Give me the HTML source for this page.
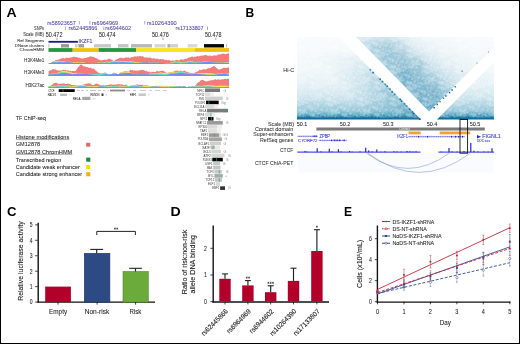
<!DOCTYPE html>
<html><head><meta charset="utf-8">
<style>
html,body{margin:0;padding:0;background:#fff;}
body{width:520px;height:344px;overflow:hidden;}
svg{display:block;will-change:transform;}
text{font-family:"Liberation Sans",sans-serif;}
</style></head>
<body>
<svg width="520" height="344" viewBox="0 0 520 344">
<defs>
  <linearGradient id="hicV" x1="0" y1="37" x2="0" y2="119.5" gradientUnits="userSpaceOnUse">
    <stop offset="0" stop-color="#f8fbfc"/>
    <stop offset="0.4" stop-color="#f0f7f9"/>
    <stop offset="0.6" stop-color="#e0eef4"/>
    <stop offset="0.72" stop-color="#cce4ed"/>
    <stop offset="0.82" stop-color="#acd2e1"/>
    <stop offset="0.9" stop-color="#8bc1d5"/>
    <stop offset="0.935" stop-color="#5eabc9"/>
    <stop offset="0.955" stop-color="#2a8ab3"/>
    <stop offset="0.975" stop-color="#116f99"/>
    <stop offset="1" stop-color="#0f6d97"/>
  </linearGradient>
  <linearGradient id="hicEdge" x1="380" y1="78" x2="356" y2="102" gradientUnits="userSpaceOnUse">
    <stop offset="0" stop-color="#2a8ab2" stop-opacity="0.45"/>
    <stop offset="0.5" stop-color="#2a8ab2" stop-opacity="0.18"/>
    <stop offset="1" stop-color="#2a8ab2" stop-opacity="0"/>
  </linearGradient>
  <linearGradient id="vfade" x1="0" y1="50" x2="0" y2="92" gradientUnits="userSpaceOnUse">
    <stop offset="0" stop-color="#fff" stop-opacity="0"/>
    <stop offset="1" stop-color="#fff" stop-opacity="1"/>
  </linearGradient>
  <mask id="mEdge" maskUnits="userSpaceOnUse" x="290" y="30" width="210" height="95">
    <rect x="290" y="30" width="210" height="95" fill="url(#vfade)"/>
  </mask>
  <linearGradient id="hicM" x1="0" y1="37" x2="0" y2="111.5" gradientUnits="userSpaceOnUse">
    <stop offset="0" stop-color="#d2e6ee"/>
    <stop offset="0.25" stop-color="#b6d6e3"/>
    <stop offset="0.6" stop-color="#93c3d6"/>
    <stop offset="1" stop-color="#5aa3c2"/>
  </linearGradient>
  <linearGradient id="hicMx" x1="392" y1="74" x2="442" y2="24" gradientUnits="userSpaceOnUse">
    <stop offset="0" stop-color="#fff" stop-opacity="0"/>
    <stop offset="0.25" stop-color="#fff" stop-opacity="0.1"/>
    <stop offset="0.5" stop-color="#fff" stop-opacity="0.45"/>
    <stop offset="0.75" stop-color="#fff" stop-opacity="0.7"/>
    <stop offset="1" stop-color="#fff" stop-opacity="0.82"/>
  </linearGradient>
  <filter id="blur4" x="-50%" y="-50%" width="200%" height="200%"><feGaussianBlur stdDeviation="5"/></filter>
  <filter id="blur2" x="-50%" y="-50%" width="200%" height="200%"><feGaussianBlur stdDeviation="2"/></filter>
  <filter id="noise" x="0" y="0" width="100%" height="100%">
    <feTurbulence type="fractalNoise" baseFrequency="0.55" numOctaves="1" seed="3" result="n"/>
    <feColorMatrix in="n" type="matrix" values="0 0 0 0 1  0 0 0 0 1  0 0 0 0 1  0 0 0 -2.2 1.35"/>
  </filter>
  <pattern id="diam" width="22.75" height="22.75" patternUnits="userSpaceOnUse" patternTransform="rotate(45)">
    <rect x="0.00" y="1.75" width="1.75" height="1.75" fill="#fff" fill-opacity="0.18"/><rect x="0.00" y="3.50" width="1.75" height="1.75" fill="#fff" fill-opacity="0.35"/><rect x="0.00" y="8.75" width="1.75" height="1.75" fill="#fff" fill-opacity="0.24"/><rect x="0.00" y="10.50" width="1.75" height="1.75" fill="#fff" fill-opacity="0.16"/><rect x="0.00" y="12.25" width="1.75" height="1.75" fill="#fff" fill-opacity="0.09"/><rect x="0.00" y="14.00" width="1.75" height="1.75" fill="#fff" fill-opacity="0.32"/><rect x="0.00" y="15.75" width="1.75" height="1.75" fill="#fff" fill-opacity="0.16"/><rect x="0.00" y="21.00" width="1.75" height="1.75" fill="#fff" fill-opacity="0.38"/><rect x="1.75" y="1.75" width="1.75" height="1.75" fill="#fff" fill-opacity="0.14"/><rect x="1.75" y="5.25" width="1.75" height="1.75" fill="#fff" fill-opacity="0.11"/><rect x="1.75" y="7.00" width="1.75" height="1.75" fill="#fff" fill-opacity="0.39"/><rect x="1.75" y="14.00" width="1.75" height="1.75" fill="#fff" fill-opacity="0.44"/><rect x="1.75" y="15.75" width="1.75" height="1.75" fill="#fff" fill-opacity="0.28"/><rect x="3.50" y="3.50" width="1.75" height="1.75" fill="#fff" fill-opacity="0.16"/><rect x="3.50" y="5.25" width="1.75" height="1.75" fill="#fff" fill-opacity="0.11"/><rect x="3.50" y="7.00" width="1.75" height="1.75" fill="#fff" fill-opacity="0.12"/><rect x="3.50" y="8.75" width="1.75" height="1.75" fill="#fff" fill-opacity="0.32"/><rect x="3.50" y="10.50" width="1.75" height="1.75" fill="#fff" fill-opacity="0.22"/><rect x="3.50" y="12.25" width="1.75" height="1.75" fill="#fff" fill-opacity="0.18"/><rect x="3.50" y="19.25" width="1.75" height="1.75" fill="#fff" fill-opacity="0.35"/><rect x="3.50" y="21.00" width="1.75" height="1.75" fill="#fff" fill-opacity="0.22"/><rect x="5.25" y="10.50" width="1.75" height="1.75" fill="#fff" fill-opacity="0.09"/><rect x="5.25" y="12.25" width="1.75" height="1.75" fill="#fff" fill-opacity="0.18"/><rect x="5.25" y="14.00" width="1.75" height="1.75" fill="#fff" fill-opacity="0.43"/><rect x="5.25" y="17.50" width="1.75" height="1.75" fill="#fff" fill-opacity="0.32"/><rect x="5.25" y="19.25" width="1.75" height="1.75" fill="#fff" fill-opacity="0.42"/><rect x="5.25" y="21.00" width="1.75" height="1.75" fill="#fff" fill-opacity="0.18"/><rect x="7.00" y="0.00" width="1.75" height="1.75" fill="#fff" fill-opacity="0.29"/><rect x="7.00" y="1.75" width="1.75" height="1.75" fill="#fff" fill-opacity="0.30"/><rect x="7.00" y="5.25" width="1.75" height="1.75" fill="#fff" fill-opacity="0.16"/><rect x="7.00" y="8.75" width="1.75" height="1.75" fill="#fff" fill-opacity="0.11"/><rect x="7.00" y="10.50" width="1.75" height="1.75" fill="#fff" fill-opacity="0.12"/><rect x="7.00" y="15.75" width="1.75" height="1.75" fill="#fff" fill-opacity="0.10"/><rect x="7.00" y="17.50" width="1.75" height="1.75" fill="#fff" fill-opacity="0.45"/><rect x="7.00" y="19.25" width="1.75" height="1.75" fill="#fff" fill-opacity="0.44"/><rect x="8.75" y="0.00" width="1.75" height="1.75" fill="#fff" fill-opacity="0.35"/><rect x="8.75" y="3.50" width="1.75" height="1.75" fill="#fff" fill-opacity="0.18"/><rect x="8.75" y="7.00" width="1.75" height="1.75" fill="#fff" fill-opacity="0.24"/><rect x="8.75" y="8.75" width="1.75" height="1.75" fill="#fff" fill-opacity="0.43"/><rect x="8.75" y="12.25" width="1.75" height="1.75" fill="#fff" fill-opacity="0.27"/><rect x="8.75" y="14.00" width="1.75" height="1.75" fill="#fff" fill-opacity="0.42"/><rect x="8.75" y="17.50" width="1.75" height="1.75" fill="#fff" fill-opacity="0.32"/><rect x="8.75" y="21.00" width="1.75" height="1.75" fill="#fff" fill-opacity="0.36"/><rect x="10.50" y="0.00" width="1.75" height="1.75" fill="#fff" fill-opacity="0.37"/><rect x="10.50" y="1.75" width="1.75" height="1.75" fill="#fff" fill-opacity="0.08"/><rect x="10.50" y="3.50" width="1.75" height="1.75" fill="#fff" fill-opacity="0.09"/><rect x="10.50" y="10.50" width="1.75" height="1.75" fill="#fff" fill-opacity="0.10"/><rect x="10.50" y="15.75" width="1.75" height="1.75" fill="#fff" fill-opacity="0.26"/><rect x="10.50" y="17.50" width="1.75" height="1.75" fill="#fff" fill-opacity="0.36"/><rect x="10.50" y="21.00" width="1.75" height="1.75" fill="#fff" fill-opacity="0.26"/><rect x="12.25" y="0.00" width="1.75" height="1.75" fill="#fff" fill-opacity="0.18"/><rect x="12.25" y="3.50" width="1.75" height="1.75" fill="#fff" fill-opacity="0.16"/><rect x="12.25" y="5.25" width="1.75" height="1.75" fill="#fff" fill-opacity="0.35"/><rect x="12.25" y="7.00" width="1.75" height="1.75" fill="#fff" fill-opacity="0.20"/><rect x="12.25" y="12.25" width="1.75" height="1.75" fill="#fff" fill-opacity="0.27"/><rect x="12.25" y="14.00" width="1.75" height="1.75" fill="#fff" fill-opacity="0.16"/><rect x="12.25" y="15.75" width="1.75" height="1.75" fill="#fff" fill-opacity="0.30"/><rect x="12.25" y="17.50" width="1.75" height="1.75" fill="#fff" fill-opacity="0.16"/><rect x="12.25" y="19.25" width="1.75" height="1.75" fill="#fff" fill-opacity="0.31"/><rect x="12.25" y="21.00" width="1.75" height="1.75" fill="#fff" fill-opacity="0.42"/><rect x="14.00" y="1.75" width="1.75" height="1.75" fill="#fff" fill-opacity="0.17"/><rect x="14.00" y="5.25" width="1.75" height="1.75" fill="#fff" fill-opacity="0.13"/><rect x="14.00" y="10.50" width="1.75" height="1.75" fill="#fff" fill-opacity="0.37"/><rect x="14.00" y="14.00" width="1.75" height="1.75" fill="#fff" fill-opacity="0.12"/><rect x="14.00" y="15.75" width="1.75" height="1.75" fill="#fff" fill-opacity="0.24"/><rect x="14.00" y="17.50" width="1.75" height="1.75" fill="#fff" fill-opacity="0.35"/><rect x="15.75" y="0.00" width="1.75" height="1.75" fill="#fff" fill-opacity="0.23"/><rect x="15.75" y="1.75" width="1.75" height="1.75" fill="#fff" fill-opacity="0.40"/><rect x="15.75" y="3.50" width="1.75" height="1.75" fill="#fff" fill-opacity="0.15"/><rect x="15.75" y="5.25" width="1.75" height="1.75" fill="#fff" fill-opacity="0.24"/><rect x="15.75" y="7.00" width="1.75" height="1.75" fill="#fff" fill-opacity="0.17"/><rect x="15.75" y="10.50" width="1.75" height="1.75" fill="#fff" fill-opacity="0.40"/><rect x="15.75" y="14.00" width="1.75" height="1.75" fill="#fff" fill-opacity="0.45"/><rect x="17.50" y="0.00" width="1.75" height="1.75" fill="#fff" fill-opacity="0.26"/><rect x="17.50" y="1.75" width="1.75" height="1.75" fill="#fff" fill-opacity="0.23"/><rect x="17.50" y="3.50" width="1.75" height="1.75" fill="#fff" fill-opacity="0.22"/><rect x="17.50" y="7.00" width="1.75" height="1.75" fill="#fff" fill-opacity="0.37"/><rect x="17.50" y="8.75" width="1.75" height="1.75" fill="#fff" fill-opacity="0.24"/><rect x="17.50" y="17.50" width="1.75" height="1.75" fill="#fff" fill-opacity="0.19"/><rect x="19.25" y="0.00" width="1.75" height="1.75" fill="#fff" fill-opacity="0.36"/><rect x="19.25" y="1.75" width="1.75" height="1.75" fill="#fff" fill-opacity="0.30"/><rect x="19.25" y="3.50" width="1.75" height="1.75" fill="#fff" fill-opacity="0.40"/><rect x="19.25" y="5.25" width="1.75" height="1.75" fill="#fff" fill-opacity="0.44"/><rect x="19.25" y="7.00" width="1.75" height="1.75" fill="#fff" fill-opacity="0.15"/><rect x="19.25" y="12.25" width="1.75" height="1.75" fill="#fff" fill-opacity="0.12"/><rect x="19.25" y="15.75" width="1.75" height="1.75" fill="#fff" fill-opacity="0.30"/><rect x="19.25" y="19.25" width="1.75" height="1.75" fill="#fff" fill-opacity="0.30"/><rect x="19.25" y="21.00" width="1.75" height="1.75" fill="#fff" fill-opacity="0.43"/><rect x="21.00" y="0.00" width="1.75" height="1.75" fill="#fff" fill-opacity="0.34"/><rect x="21.00" y="1.75" width="1.75" height="1.75" fill="#fff" fill-opacity="0.23"/><rect x="21.00" y="5.25" width="1.75" height="1.75" fill="#fff" fill-opacity="0.20"/><rect x="21.00" y="8.75" width="1.75" height="1.75" fill="#fff" fill-opacity="0.25"/><rect x="21.00" y="14.00" width="1.75" height="1.75" fill="#fff" fill-opacity="0.16"/><rect x="21.00" y="15.75" width="1.75" height="1.75" fill="#fff" fill-opacity="0.43"/><rect x="21.00" y="21.00" width="1.75" height="1.75" fill="#fff" fill-opacity="0.14"/>
  </pattern>
  <clipPath id="hicClip">
    <polygon points="297,37 339,37 421,119.5 297,119.5"/>
    <polygon points="356,37 494,37 494,47 429,111.5"/>
    <polygon points="437,119.5 494,62 494,119.5"/>
  </clipPath>
  <clipPath id="hicClipM">
    <polygon points="356,37 494,37 494,47 429,111.5"/>
  </clipPath>
</defs>
<rect x="0.5" y="0.5" width="519" height="343" fill="none" stroke="#000" stroke-width="1"/>
<text x="6.4" y="17" font-size="12" font-weight="bold" fill="#000" textLength="10.2" lengthAdjust="spacingAndGlyphs">A</text>
<text x="47.3" y="24.5" font-size="5.3" fill="#4a3f9f" textLength="28.5" lengthAdjust="spacingAndGlyphs" stroke="#4a3f9f" stroke-width="0.06">rs58923657</text>
<line x1="79.3" y1="21.0" x2="79.3" y2="24.5" stroke="#8a86c6" stroke-width="0.75"/>
<line x1="89.9" y1="21.0" x2="89.9" y2="24.5" stroke="#8a86c6" stroke-width="0.75"/>
<text x="92" y="24.5" font-size="5.3" fill="#4a3f9f" textLength="26.2" lengthAdjust="spacingAndGlyphs" stroke="#4a3f9f" stroke-width="0.06">rs6964969</text>
<line x1="144.8" y1="21.0" x2="144.8" y2="24.5" stroke="#8a86c6" stroke-width="0.75"/>
<text x="146.9" y="24.5" font-size="5.3" fill="#4a3f9f" textLength="29.8" lengthAdjust="spacingAndGlyphs" stroke="#4a3f9f" stroke-width="0.06">rs10264390</text>
<text x="44" y="30.3" font-size="5.2" fill="#333" text-anchor="end" textLength="9.9" lengthAdjust="spacingAndGlyphs" stroke="#333" stroke-width="0.06">SNPs</text>
<line x1="65.4" y1="26.5" x2="65.4" y2="30.0" stroke="#8a86c6" stroke-width="0.75"/>
<text x="68.5" y="30.0" font-size="5.3" fill="#4a3f9f" textLength="28.9" lengthAdjust="spacingAndGlyphs" stroke="#4a3f9f" stroke-width="0.06">rs62445866</text>
<line x1="103.8" y1="26.5" x2="103.8" y2="30.0" stroke="#8a86c6" stroke-width="0.75"/>
<text x="105.2" y="30.0" font-size="5.3" fill="#4a3f9f" textLength="25.8" lengthAdjust="spacingAndGlyphs" stroke="#4a3f9f" stroke-width="0.06">rs6944602</text>
<text x="175.5" y="30.0" font-size="5.3" fill="#4a3f9f" textLength="28" lengthAdjust="spacingAndGlyphs" stroke="#4a3f9f" stroke-width="0.06">rs17133807</text>
<line x1="207.5" y1="26.5" x2="207.5" y2="30.0" stroke="#8a86c6" stroke-width="0.75"/>
<text x="44" y="36.3" font-size="5.3" fill="#333" text-anchor="end" textLength="20.8" lengthAdjust="spacingAndGlyphs" stroke="#333" stroke-width="0.06">Scale (MB)</text>
<text x="45.8" y="36.9" font-size="6.9" fill="#222" textLength="16.6" lengthAdjust="spacingAndGlyphs" stroke="#222" stroke-width="0.04">50.472</text>
<text x="99" y="36.9" font-size="6.9" fill="#222" textLength="16.6" lengthAdjust="spacingAndGlyphs" stroke="#222" stroke-width="0.04">50.474</text>
<text x="152.1" y="36.9" font-size="6.9" fill="#222" textLength="16.6" lengthAdjust="spacingAndGlyphs" stroke="#222" stroke-width="0.04">50.476</text>
<text x="204.9" y="36.9" font-size="6.9" fill="#222" textLength="16.6" lengthAdjust="spacingAndGlyphs" stroke="#222" stroke-width="0.04">50.478</text>
<line x1="57" y1="37.6" x2="57" y2="40" stroke="#666" stroke-width="0.6"/>
<line x1="109.5" y1="37.6" x2="109.5" y2="40" stroke="#666" stroke-width="0.6"/>
<line x1="163" y1="37.6" x2="163" y2="40" stroke="#666" stroke-width="0.6"/>
<line x1="215.8" y1="37.6" x2="215.8" y2="40" stroke="#666" stroke-width="0.6"/>
<text x="44.1" y="42.4" font-size="4.3" fill="#333" text-anchor="end" textLength="26.9" lengthAdjust="spacingAndGlyphs" stroke="#333" stroke-width="0.06">Ref Seqgenes</text>
<text x="44.1" y="46.9" font-size="4.3" fill="#333" text-anchor="end" textLength="29.3" lengthAdjust="spacingAndGlyphs" stroke="#333" stroke-width="0.06">DNase clusters</text>
<text x="44.1" y="51.2" font-size="4.3" fill="#333" text-anchor="end" textLength="24.5" lengthAdjust="spacingAndGlyphs" stroke="#333" stroke-width="0.06">ChromHMM</text>
<rect x="48.5" y="40.9" width="29.4" height="1.8" fill="#1c1c7c"/>
<text x="78.5" y="42.8" font-size="5.0" fill="#3a3aa0" textLength="13.8" lengthAdjust="spacingAndGlyphs" stroke="#3a3aa0" stroke-width="0.06">IKZF1</text>
<rect x="48.5" y="44.1" width="0.7999999999999972" height="3.4" fill="#aaa"/>
<rect x="61" y="44.1" width="8" height="3.4" fill="#9a9a9a"/>
<rect x="75" y="44.1" width="2.5" height="3.4" fill="#cfcfcf"/>
<rect x="78.5" y="44.1" width="5.5" height="3.4" fill="#a0a0a0"/>
<rect x="94" y="44.1" width="17" height="3.4" fill="#c8c8c8"/>
<rect x="118" y="44.1" width="10.5" height="3.4" fill="#c4c4c4"/>
<rect x="131" y="44.1" width="21" height="3.4" fill="#b8b8b8"/>
<rect x="154.6" y="44.1" width="11.0" height="3.4" fill="#d6d6d6"/>
<rect x="167.5" y="44.1" width="3.0" height="3.4" fill="#aaaaaa"/>
<rect x="170.5" y="44.1" width="7.5" height="3.4" fill="#d0d0d0"/>
<rect x="187.7" y="44.1" width="9.600000000000023" height="3.4" fill="#d8d8d8"/>
<rect x="204" y="44.1" width="20" height="3.4" fill="#050505"/>
<rect x="226" y="44.1" width="1" height="3.4" fill="#bbb"/>
<rect x="48.5" y="48.1" width="24.200000000000003" height="3.8" fill="#23963f"/>
<rect x="72.7" y="48.1" width="25.89999999999999" height="3.8" fill="#f1c20e"/>
<rect x="98.6" y="48.1" width="37.599999999999994" height="3.8" fill="#23963f"/>
<rect x="136.2" y="48.1" width="58.80000000000001" height="3.8" fill="#f8e31c"/>
<rect x="195" y="48.1" width="34" height="3.8" fill="#f0c00e"/>
<text x="44.4" y="61.6" font-size="4.5" fill="#333" text-anchor="end" textLength="20.3" lengthAdjust="spacingAndGlyphs" stroke="#333" stroke-width="0.06">H3K4Me1</text>
<text x="44.4" y="73.7" font-size="4.5" fill="#333" text-anchor="end" textLength="20.3" lengthAdjust="spacingAndGlyphs" stroke="#333" stroke-width="0.06">H3K4Me3</text>
<text x="44.4" y="87.1" font-size="4.5" fill="#333" text-anchor="end" textLength="19" lengthAdjust="spacingAndGlyphs" stroke="#333" stroke-width="0.06">H3K27ac</text>
<path d="M48.6,63.8 L48.6,63.5 L49.8,63.0 L51.0,62.9 L52.2,61.9 L53.4,61.4 L54.6,60.9 L55.8,60.0 L57.0,60.0 L58.2,59.8 L59.4,59.6 L60.6,58.6 L61.8,58.5 L63.0,58.0 L64.2,58.5 L65.4,58.2 L66.6,57.4 L67.8,58.1 L69.0,57.9 L70.2,57.5 L71.4,57.4 L72.6,56.9 L73.8,56.6 L75.0,57.0 L76.2,56.9 L77.4,57.3 L78.6,57.7 L79.8,57.8 L81.0,58.5 L82.2,58.5 L83.4,58.6 L84.6,58.0 L85.8,57.9 L87.0,57.5 L88.2,57.3 L89.4,56.8 L90.6,56.3 L91.8,56.7 L93.0,56.8 L94.2,57.3 L95.4,57.9 L96.6,58.2 L97.8,58.9 L99.0,59.7 L100.2,60.0 L101.4,60.5 L102.6,59.9 L103.8,60.1 L105.0,59.4 L106.2,59.9 L107.4,59.6 L108.6,58.7 L109.8,58.8 L111.0,59.4 L112.2,59.7 L113.4,60.9 L114.6,60.8 L115.8,59.6 L117.0,59.3 L118.2,58.7 L119.4,58.0 L120.6,57.7 L121.8,57.7 L123.0,58.2 L124.2,57.9 L125.4,57.4 L126.6,57.6 L127.8,57.5 L129.0,57.6 L130.2,58.0 L131.4,57.1 L132.6,57.2 L133.8,56.7 L135.0,56.3 L136.2,56.8 L137.4,56.1 L138.6,56.5 L139.8,56.0 L141.0,56.3 L142.2,56.3 L143.4,56.6 L144.6,57.5 L145.8,57.5 L147.0,57.2 L148.2,58.0 L149.4,57.5 L150.6,57.8 L151.8,58.5 L153.0,58.4 L154.2,58.0 L155.4,59.1 L156.6,58.5 L157.8,58.7 L159.0,59.4 L160.2,59.1 L161.4,59.3 L162.6,59.2 L163.8,59.3 L165.0,59.9 L166.2,59.7 L167.4,60.2 L168.6,60.1 L169.8,60.3 L171.0,60.9 L172.2,60.6 L173.4,60.6 L174.6,60.7 L175.8,59.9 L177.0,59.8 L178.2,60.4 L179.4,60.2 L180.6,59.5 L181.8,59.3 L183.0,59.7 L184.2,59.5 L185.4,58.4 L186.6,58.7 L187.8,58.2 L189.0,57.5 L190.2,57.2 L191.4,56.7 L192.6,56.5 L193.8,57.3 L195.0,56.4 L196.2,56.7 L197.4,56.1 L198.6,56.5 L199.8,56.1 L201.0,55.7 L202.2,55.4 L203.4,55.8 L204.6,55.0 L205.8,55.1 L207.0,55.4 L208.2,55.8 L209.4,55.7 L210.6,55.5 L211.8,56.2 L213.0,55.6 L214.2,55.5 L215.4,55.5 L216.6,55.4 L217.8,54.7 L219.0,54.4 L220.2,54.3 L221.4,54.2 L222.6,53.6 L223.8,53.7 L225.0,54.1 L226.2,54.0 L227.4,53.6 L228.6,53.4 L229.0,53.3 L229,63.8 Z" fill="#f47b7a"/>
<path d="M48.6,63.8 L48.6,63.5 L49.8,63.0 L51.0,62.9 L52.2,61.9 L53.4,61.4 L54.6,60.9 L55.8,61.1 L57.0,61.0 L58.2,61.1 L59.4,60.9 L60.6,61.4 L61.8,61.3 L63.0,61.2 L64.2,61.2 L65.4,61.7 L66.6,61.7 L67.8,61.5 L69.0,61.8 L70.2,61.7 L71.4,62.1 L72.6,62.0 L73.8,62.0 L75.0,62.1 L76.2,62.1 L77.4,62.2 L78.6,62.2 L79.8,62.6 L81.0,62.0 L82.2,62.2 L83.4,62.4 L84.6,62.5 L85.8,63.0 L87.0,62.9 L88.2,63.1 L89.4,63.0 L90.6,63.0 L91.8,63.2 L93.0,63.1 L94.2,63.1 L95.4,63.0 L96.6,62.9 L97.8,62.8 L99.0,62.6 L100.2,62.8 L101.4,62.4 L102.6,62.7 L103.8,62.4 L105.0,62.5 L106.2,62.1 L107.4,61.5 L108.6,62.1 L109.8,61.9 L111.0,61.6 L112.2,61.5 L113.4,61.2 L114.6,60.9 L115.8,61.3 L117.0,61.2 L118.2,61.5 L119.4,61.2 L120.6,61.1 L121.8,60.8 L123.0,61.1 L124.2,61.3 L125.4,61.4 L126.6,61.3 L127.8,61.4 L129.0,61.7 L130.2,61.1 L131.4,61.3 L132.6,61.6 L133.8,61.3 L135.0,61.9 L136.2,62.5 L137.4,62.1 L138.6,62.4 L139.8,62.4 L141.0,62.2 L142.2,62.1 L143.4,62.2 L144.6,62.4 L145.8,62.2 L147.0,62.3 L148.2,62.5 L149.4,62.6 L150.6,62.7 L151.8,62.5 L153.0,62.9 L154.2,62.4 L155.4,62.6 L156.6,62.8 L157.8,62.6 L159.0,63.0 L160.2,63.0 L161.4,62.9 L162.6,63.2 L163.8,63.0 L165.0,63.2 L166.2,63.1 L167.4,63.3 L168.6,63.0 L169.8,63.0 L171.0,62.6 L172.2,62.6 L173.4,61.8 L174.6,61.8 L175.8,61.4 L177.0,62.0 L178.2,61.6 L179.4,61.7 L180.6,62.0 L181.8,61.9 L183.0,61.9 L184.2,62.2 L185.4,61.8 L186.6,61.9 L187.8,61.6 L189.0,61.6 L190.2,61.2 L191.4,61.1 L192.6,61.6 L193.8,61.7 L195.0,62.2 L196.2,61.9 L197.4,61.6 L198.6,61.7 L199.8,61.8 L201.0,62.0 L202.2,61.7 L203.4,61.4 L204.6,61.1 L205.8,60.9 L207.0,61.3 L208.2,61.5 L209.4,61.7 L210.6,61.5 L211.8,62.0 L213.0,62.0 L214.2,62.0 L215.4,62.3 L216.6,62.3 L217.8,62.4 L219.0,62.7 L220.2,62.8 L221.4,62.5 L222.6,62.4 L223.8,62.8 L225.0,62.5 L226.2,62.6 L227.4,62.3 L228.6,62.3 L229.0,62.3 L229,63.8 Z" fill="#f5b04e"/>
<path d="M48.6,63.8 L48.6,63.5 L49.8,63.0 L51.0,62.9 L52.2,61.9 L53.4,61.4 L54.6,60.9 L55.8,61.3 L57.0,61.3 L58.2,61.3 L59.4,61.0 L60.6,61.4 L61.8,61.5 L63.0,61.3 L64.2,61.5 L65.4,61.8 L66.6,62.0 L67.8,61.9 L69.0,62.0 L70.2,62.0 L71.4,62.3 L72.6,62.3 L73.8,62.3 L75.0,62.7 L76.2,62.7 L77.4,62.7 L78.6,62.5 L79.8,63.0 L81.0,62.4 L82.2,62.4 L83.4,62.6 L84.6,62.7 L85.8,63.0 L87.0,62.9 L88.2,63.1 L89.4,63.0 L90.6,63.0 L91.8,63.2 L93.0,63.1 L94.2,63.1 L95.4,63.0 L96.6,62.9 L97.8,62.8 L99.0,62.6 L100.2,62.8 L101.4,62.5 L102.6,62.7 L103.8,62.5 L105.0,62.5 L106.2,62.1 L107.4,61.5 L108.6,62.1 L109.8,61.9 L111.0,61.6 L112.2,61.5 L113.4,61.2 L114.6,61.0 L115.8,61.4 L117.0,61.3 L118.2,61.5 L119.4,61.2 L120.6,61.1 L121.8,61.0 L123.0,61.2 L124.2,61.4 L125.4,61.5 L126.6,61.6 L127.8,61.5 L129.0,61.7 L130.2,61.3 L131.4,61.6 L132.6,61.9 L133.8,61.6 L135.0,62.3 L136.2,62.7 L137.4,62.5 L138.6,62.6 L139.8,62.7 L141.0,62.6 L142.2,62.5 L143.4,62.6 L144.6,62.7 L145.8,62.6 L147.0,62.6 L148.2,62.7 L149.4,62.8 L150.6,62.9 L151.8,62.6 L153.0,62.9 L154.2,62.5 L155.4,62.8 L156.6,62.8 L157.8,62.6 L159.0,63.0 L160.2,63.0 L161.4,62.9 L162.6,63.2 L163.8,63.0 L165.0,63.3 L166.2,63.1 L167.4,63.3 L168.6,63.0 L169.8,63.0 L171.0,62.8 L172.2,62.6 L173.4,61.8 L174.6,61.8 L175.8,61.4 L177.0,62.0 L178.2,61.7 L179.4,61.8 L180.6,62.0 L181.8,61.9 L183.0,61.9 L184.2,62.2 L185.4,61.8 L186.6,62.0 L187.8,61.6 L189.0,61.6 L190.2,61.4 L191.4,61.3 L192.6,61.7 L193.8,61.7 L195.0,62.3 L196.2,62.2 L197.4,62.0 L198.6,61.8 L199.8,62.2 L201.0,62.2 L202.2,61.9 L203.4,61.6 L204.6,61.5 L205.8,61.4 L207.0,61.6 L208.2,61.9 L209.4,62.0 L210.6,62.0 L211.8,62.2 L213.0,62.2 L214.2,62.4 L215.4,62.5 L216.6,62.7 L217.8,62.7 L219.0,62.9 L220.2,62.8 L221.4,62.6 L222.6,62.5 L223.8,62.8 L225.0,62.5 L226.2,62.6 L227.4,62.3 L228.6,62.3 L229.0,62.3 L229,63.8 Z" fill="#f0e368"/>
<path d="M48.6,63.8 L48.6,63.5 L49.8,63.0 L51.0,62.9 L52.2,62.0 L53.4,61.7 L54.6,61.4 L55.8,61.8 L57.0,61.6 L58.2,61.5 L59.4,61.4 L60.6,61.7 L61.8,61.9 L63.0,61.7 L64.2,61.8 L65.4,61.9 L66.6,62.1 L67.8,62.0 L69.0,62.2 L70.2,62.4 L71.4,62.6 L72.6,62.7 L73.8,62.9 L75.0,63.0 L76.2,63.1 L77.4,63.0 L78.6,63.0 L79.8,63.2 L81.0,62.8 L82.2,62.8 L83.4,62.9 L84.6,62.7 L85.8,63.0 L87.0,62.9 L88.2,63.1 L89.4,63.0 L90.6,63.0 L91.8,63.2 L93.0,63.1 L94.2,63.1 L95.4,63.0 L96.6,62.9 L97.8,62.8 L99.0,62.6 L100.2,62.8 L101.4,62.5 L102.6,62.7 L103.8,62.6 L105.0,62.7 L106.2,62.2 L107.4,61.8 L108.6,62.4 L109.8,62.2 L111.0,61.8 L112.2,61.8 L113.4,61.5 L114.6,61.4 L115.8,61.6 L117.0,61.7 L118.2,61.6 L119.4,61.5 L120.6,61.4 L121.8,61.5 L123.0,61.6 L124.2,61.8 L125.4,61.7 L126.6,61.9 L127.8,61.9 L129.0,62.0 L130.2,61.7 L131.4,61.9 L132.6,62.2 L133.8,62.1 L135.0,62.7 L136.2,63.0 L137.4,62.8 L138.6,62.8 L139.8,62.8 L141.0,62.7 L142.2,62.6 L143.4,62.6 L144.6,62.7 L145.8,62.6 L147.0,62.6 L148.2,62.7 L149.4,62.8 L150.6,62.9 L151.8,62.6 L153.0,62.9 L154.2,62.5 L155.4,62.8 L156.6,62.8 L157.8,62.6 L159.0,63.0 L160.2,63.0 L161.4,62.9 L162.6,63.2 L163.8,63.0 L165.0,63.3 L166.2,63.3 L167.4,63.5 L168.6,63.1 L169.8,63.2 L171.0,63.0 L172.2,62.9 L173.4,62.3 L174.6,62.2 L175.8,62.1 L177.0,62.5 L178.2,62.2 L179.4,62.3 L180.6,62.5 L181.8,62.4 L183.0,62.3 L184.2,62.4 L185.4,62.0 L186.6,62.1 L187.8,61.8 L189.0,61.8 L190.2,61.7 L191.4,61.5 L192.6,62.0 L193.8,61.9 L195.0,62.3 L196.2,62.4 L197.4,62.1 L198.6,62.1 L199.8,62.3 L201.0,62.4 L202.2,62.2 L203.4,61.9 L204.6,61.7 L205.8,61.5 L207.0,61.6 L208.2,62.0 L209.4,62.0 L210.6,62.0 L211.8,62.2 L213.0,62.2 L214.2,62.4 L215.4,62.5 L216.6,62.7 L217.8,62.7 L219.0,62.9 L220.2,62.8 L221.4,62.6 L222.6,62.6 L223.8,62.9 L225.0,62.6 L226.2,62.7 L227.4,62.6 L228.6,62.7 L229.0,62.8 L229,63.8 Z" fill="#9ae07a"/>
<path d="M48.6,63.8 L48.6,63.5 L49.8,63.0 L51.0,62.9 L52.2,62.3 L53.4,62.1 L54.6,61.7 L55.8,62.3 L57.0,61.9 L58.2,61.9 L59.4,61.8 L60.6,61.8 L61.8,62.0 L63.0,61.8 L64.2,61.9 L65.4,61.9 L66.6,62.1 L67.8,62.0 L69.0,62.2 L70.2,62.4 L71.4,62.6 L72.6,62.7 L73.8,62.9 L75.0,63.0 L76.2,63.1 L77.4,63.0 L78.6,63.0 L79.8,63.2 L81.0,62.8 L82.2,62.8 L83.4,62.9 L84.6,62.7 L85.8,63.0 L87.0,62.9 L88.2,63.1 L89.4,63.0 L90.6,63.0 L91.8,63.2 L93.0,63.1 L94.2,63.1 L95.4,63.0 L96.6,63.0 L97.8,62.9 L99.0,62.8 L100.2,62.9 L101.4,62.8 L102.6,62.9 L103.8,62.8 L105.0,63.0 L106.2,62.7 L107.4,62.3 L108.6,62.7 L109.8,62.6 L111.0,62.2 L112.2,62.2 L113.4,61.9 L114.6,61.8 L115.8,62.0 L117.0,62.1 L118.2,62.1 L119.4,61.9 L120.6,61.9 L121.8,61.8 L123.0,61.8 L124.2,62.1 L125.4,62.1 L126.6,62.1 L127.8,62.0 L129.0,62.2 L130.2,61.9 L131.4,62.2 L132.6,62.5 L133.8,62.3 L135.0,62.9 L136.2,63.0 L137.4,62.9 L138.6,63.0 L139.8,62.8 L141.0,62.7 L142.2,62.6 L143.4,62.6 L144.6,62.7 L145.8,62.6 L147.0,62.6 L148.2,62.7 L149.4,62.8 L150.6,62.9 L151.8,62.6 L153.0,62.9 L154.2,62.5 L155.4,62.8 L156.6,62.8 L157.8,62.6 L159.0,63.0 L160.2,63.0 L161.4,62.9 L162.6,63.2 L163.8,63.1 L165.0,63.3 L166.2,63.5 L167.4,63.6 L168.6,63.3 L169.8,63.3 L171.0,63.2 L172.2,63.1 L173.4,62.4 L174.6,62.4 L175.8,62.3 L177.0,62.6 L178.2,62.3 L179.4,62.5 L180.6,62.8 L181.8,62.6 L183.0,62.5 L184.2,62.7 L185.4,62.5 L186.6,62.7 L187.8,62.3 L189.0,62.3 L190.2,62.1 L191.4,62.1 L192.6,62.4 L193.8,62.6 L195.0,62.7 L196.2,62.8 L197.4,62.4 L198.6,62.5 L199.8,62.6 L201.0,62.5 L202.2,62.2 L203.4,62.0 L204.6,61.8 L205.8,61.7 L207.0,61.6 L208.2,62.0 L209.4,62.0 L210.6,62.0 L211.8,62.2 L213.0,62.4 L214.2,62.5 L215.4,62.6 L216.6,62.7 L217.8,62.8 L219.0,62.9 L220.2,62.9 L221.4,62.6 L222.6,62.6 L223.8,62.9 L225.0,62.6 L226.2,62.7 L227.4,62.6 L228.6,62.7 L229.0,62.8 L229,63.8 Z" fill="#62d2e0"/>
<path d="M48.6,63.8 L48.6,63.5 L49.8,63.0 L51.0,62.9 L52.2,62.6 L53.4,62.6 L54.6,62.3 L55.8,62.8 L57.0,62.7 L58.2,62.6 L59.4,62.5 L60.6,62.5 L61.8,62.6 L63.0,62.4 L64.2,62.5 L65.4,62.5 L66.6,62.6 L67.8,62.5 L69.0,62.5 L70.2,62.8 L71.4,62.8 L72.6,62.8 L73.8,63.0 L75.0,63.0 L76.2,63.1 L77.4,63.1 L78.6,63.1 L79.8,63.3 L81.0,63.1 L82.2,63.0 L83.4,63.1 L84.6,63.0 L85.8,63.1 L87.0,63.0 L88.2,63.1 L89.4,63.0 L90.6,63.0 L91.8,63.2 L93.0,63.1 L94.2,63.1 L95.4,63.0 L96.6,63.0 L97.8,62.9 L99.0,62.8 L100.2,62.9 L101.4,62.8 L102.6,62.9 L103.8,62.9 L105.0,63.0 L106.2,62.8 L107.4,62.7 L108.6,63.0 L109.8,62.9 L111.0,62.7 L112.2,62.6 L113.4,62.5 L114.6,62.2 L115.8,62.5 L117.0,62.3 L118.2,62.5 L119.4,62.2 L120.6,62.0 L121.8,62.2 L123.0,62.0 L124.2,62.5 L125.4,62.4 L126.6,62.6 L127.8,62.6 L129.0,62.7 L130.2,62.7 L131.4,62.8 L132.6,63.0 L133.8,62.8 L135.0,63.2 L136.2,63.1 L137.4,63.0 L138.6,63.0 L139.8,62.8 L141.0,62.7 L142.2,62.6 L143.4,62.6 L144.6,62.7 L145.8,62.6 L147.0,62.6 L148.2,62.7 L149.4,62.8 L150.6,62.9 L151.8,62.6 L153.0,62.9 L154.2,62.6 L155.4,62.8 L156.6,62.8 L157.8,62.7 L159.0,63.0 L160.2,63.0 L161.4,63.0 L162.6,63.2 L163.8,63.1 L165.0,63.4 L166.2,63.5 L167.4,63.6 L168.6,63.4 L169.8,63.5 L171.0,63.4 L172.2,63.3 L173.4,62.9 L174.6,62.9 L175.8,62.8 L177.0,63.2 L178.2,63.0 L179.4,63.1 L180.6,63.4 L181.8,63.2 L183.0,63.0 L184.2,63.0 L185.4,62.9 L186.6,63.0 L187.8,62.7 L189.0,62.6 L190.2,62.6 L191.4,62.5 L192.6,62.7 L193.8,62.7 L195.0,62.7 L196.2,63.0 L197.4,62.6 L198.6,62.6 L199.8,62.7 L201.0,62.6 L202.2,62.4 L203.4,62.1 L204.6,62.0 L205.8,61.8 L207.0,61.7 L208.2,62.0 L209.4,62.0 L210.6,62.0 L211.8,62.2 L213.0,62.4 L214.2,62.5 L215.4,62.6 L216.6,62.7 L217.8,62.8 L219.0,62.9 L220.2,62.9 L221.4,62.7 L222.6,62.7 L223.8,63.0 L225.0,62.9 L226.2,62.9 L227.4,62.9 L228.6,62.9 L229.0,63.0 L229,63.8 Z" fill="#6f8ef2"/>
<path d="M48.6,63.8 L48.6,63.5 L49.8,63.1 L51.0,63.1 L52.2,62.9 L53.4,63.0 L54.6,62.7 L55.8,63.0 L57.0,62.9 L58.2,62.8 L59.4,62.8 L60.6,62.8 L61.8,62.8 L63.0,62.7 L64.2,62.6 L65.4,62.8 L66.6,62.6 L67.8,62.6 L69.0,62.6 L70.2,62.8 L71.4,62.8 L72.6,62.8 L73.8,63.0 L75.0,63.0 L76.2,63.1 L77.4,63.1 L78.6,63.1 L79.8,63.3 L81.0,63.1 L82.2,63.0 L83.4,63.1 L84.6,63.2 L85.8,63.3 L87.0,63.3 L88.2,63.4 L89.4,63.5 L90.6,63.4 L91.8,63.7 L93.0,63.4 L94.2,63.6 L95.4,63.4 L96.6,63.4 L97.8,63.4 L99.0,63.3 L100.2,63.3 L101.4,63.3 L102.6,63.3 L103.8,63.5 L105.0,63.6 L106.2,63.5 L107.4,63.4 L108.6,63.5 L109.8,63.4 L111.0,63.2 L112.2,63.2 L113.4,63.3 L114.6,63.1 L115.8,63.3 L117.0,63.3 L118.2,63.4 L119.4,63.4 L120.6,63.3 L121.8,63.3 L123.0,63.3 L124.2,63.4 L125.4,63.3 L126.6,63.3 L127.8,63.3 L129.0,63.2 L130.2,63.1 L131.4,63.1 L132.6,63.1 L133.8,63.0 L135.0,63.2 L136.2,63.3 L137.4,63.1 L138.6,63.1 L139.8,63.1 L141.0,62.9 L142.2,62.8 L143.4,62.8 L144.6,62.8 L145.8,62.6 L147.0,62.6 L148.2,62.8 L149.4,63.0 L150.6,63.0 L151.8,62.8 L153.0,63.0 L154.2,62.8 L155.4,62.8 L156.6,62.9 L157.8,62.8 L159.0,63.0 L160.2,63.0 L161.4,63.0 L162.6,63.2 L163.8,63.1 L165.0,63.4 L166.2,63.5 L167.4,63.6 L168.6,63.4 L169.8,63.5 L171.0,63.4 L172.2,63.4 L173.4,63.4 L174.6,63.3 L175.8,63.4 L177.0,63.6 L178.2,63.6 L179.4,63.7 L180.6,63.8 L181.8,63.7 L183.0,63.6 L184.2,63.7 L185.4,63.6 L186.6,63.5 L187.8,63.3 L189.0,63.3 L190.2,63.3 L191.4,63.2 L192.6,63.3 L193.8,63.2 L195.0,63.2 L196.2,63.4 L197.4,63.2 L198.6,63.2 L199.8,63.3 L201.0,63.2 L202.2,63.1 L203.4,62.9 L204.6,63.1 L205.8,63.0 L207.0,62.9 L208.2,63.0 L209.4,63.0 L210.6,63.2 L211.8,63.1 L213.0,63.3 L214.2,63.1 L215.4,63.0 L216.6,63.0 L217.8,63.0 L219.0,63.1 L220.2,62.9 L221.4,62.8 L222.6,62.8 L223.8,63.0 L225.0,63.0 L226.2,63.1 L227.4,62.9 L228.6,62.9 L229.0,63.0 L229,63.8 Z" fill="#a66ee6"/>
<path d="M48.6,75.8 L48.6,71.5 L49.8,70.4 L51.0,70.2 L52.2,69.5 L53.4,69.1 L54.6,69.5 L55.8,69.6 L57.0,70.3 L58.2,70.4 L59.4,70.6 L60.6,70.5 L61.8,70.5 L63.0,69.8 L64.2,70.0 L65.4,69.7 L66.6,70.7 L67.8,70.1 L69.0,71.0 L70.2,70.5 L71.4,71.2 L72.6,70.8 L73.8,70.9 L75.0,71.3 L76.2,70.2 L77.4,68.1 L78.6,66.8 L79.8,65.4 L81.0,64.3 L82.2,65.3 L83.4,66.2 L84.6,66.3 L85.8,67.1 L87.0,67.0 L88.2,67.4 L89.4,67.9 L90.6,67.6 L91.8,68.6 L93.0,68.5 L94.2,69.1 L95.4,70.6 L96.6,71.2 L97.8,72.3 L99.0,73.0 L100.2,73.4 L101.4,73.8 L102.6,73.0 L103.8,73.0 L105.0,72.5 L106.2,73.4 L107.4,74.0 L108.6,74.6 L109.8,74.6 L111.0,74.5 L112.2,74.0 L113.4,73.0 L114.6,72.8 L115.8,73.4 L117.0,74.1 L118.2,74.7 L119.4,73.8 L120.6,72.6 L121.8,72.8 L123.0,71.8 L124.2,71.5 L125.4,71.2 L126.6,71.4 L127.8,71.4 L129.0,71.8 L130.2,69.6 L131.4,70.3 L132.6,70.1 L133.8,70.8 L135.0,70.4 L136.2,70.7 L137.4,70.6 L138.6,70.7 L139.8,70.0 L141.0,70.2 L142.2,69.8 L143.4,70.0 L144.6,70.5 L145.8,71.3 L147.0,71.1 L148.2,71.9 L149.4,71.4 L150.6,72.5 L151.8,72.0 L153.0,71.7 L154.2,72.1 L155.4,72.1 L156.6,71.1 L157.8,71.2 L159.0,71.6 L160.2,71.0 L161.4,70.8 L162.6,70.8 L163.8,71.1 L165.0,72.1 L166.2,72.8 L167.4,73.1 L168.6,72.7 L169.8,71.9 L171.0,71.9 L172.2,72.0 L173.4,71.8 L174.6,71.3 L175.8,70.6 L177.0,70.7 L178.2,70.7 L179.4,70.9 L180.6,70.6 L181.8,71.3 L183.0,71.3 L184.2,70.6 L185.4,70.9 L186.6,71.9 L187.8,71.7 L189.0,72.7 L190.2,72.7 L191.4,73.2 L192.6,73.6 L193.8,73.2 L195.0,72.6 L196.2,71.9 L197.4,71.6 L198.6,70.9 L199.8,69.6 L201.0,70.2 L202.2,69.5 L203.4,69.2 L204.6,69.2 L205.8,69.5 L207.0,68.7 L208.2,68.3 L209.4,68.2 L210.6,67.8 L211.8,67.2 L213.0,66.4 L214.2,66.1 L215.4,67.1 L216.6,68.1 L217.8,69.1 L219.0,69.8 L220.2,69.2 L221.4,69.0 L222.6,68.3 L223.8,67.4 L225.0,67.9 L226.2,67.9 L227.4,67.6 L228.6,67.5 L229.0,67.4 L229,75.8 Z" fill="#f47b7a"/>
<path d="M48.6,75.8 L48.6,74.1 L49.8,73.9 L51.0,74.0 L52.2,73.8 L53.4,73.6 L54.6,73.6 L55.8,72.9 L57.0,73.3 L58.2,72.4 L59.4,72.2 L60.6,71.7 L61.8,71.0 L63.0,71.1 L64.2,70.7 L65.4,70.8 L66.6,71.2 L67.8,71.8 L69.0,71.8 L70.2,72.3 L71.4,72.5 L72.6,72.9 L73.8,73.0 L75.0,73.2 L76.2,72.8 L77.4,73.1 L78.6,73.0 L79.8,73.3 L81.0,73.4 L82.2,73.1 L83.4,73.6 L84.6,73.7 L85.8,73.9 L87.0,74.1 L88.2,73.8 L89.4,73.8 L90.6,73.7 L91.8,73.9 L93.0,73.9 L94.2,73.9 L95.4,73.9 L96.6,73.7 L97.8,73.5 L99.0,73.7 L100.2,73.4 L101.4,73.8 L102.6,73.0 L103.8,73.0 L105.0,72.5 L106.2,73.4 L107.4,74.0 L108.6,74.6 L109.8,74.6 L111.0,74.5 L112.2,74.0 L113.4,73.0 L114.6,72.8 L115.8,73.4 L117.0,74.1 L118.2,74.7 L119.4,73.8 L120.6,72.6 L121.8,72.8 L123.0,72.1 L124.2,72.2 L125.4,71.7 L126.6,72.4 L127.8,72.1 L129.0,72.1 L130.2,72.4 L131.4,72.7 L132.6,73.1 L133.8,73.7 L135.0,73.9 L136.2,74.7 L137.4,74.8 L138.6,74.6 L139.8,74.4 L141.0,74.4 L142.2,74.0 L143.4,74.0 L144.6,74.1 L145.8,73.9 L147.0,73.7 L148.2,74.1 L149.4,73.7 L150.6,73.8 L151.8,73.5 L153.0,73.8 L154.2,73.3 L155.4,73.3 L156.6,73.0 L157.8,73.2 L159.0,73.1 L160.2,72.4 L161.4,72.5 L162.6,72.8 L163.8,72.9 L165.0,72.7 L166.2,72.9 L167.4,73.1 L168.6,72.7 L169.8,72.0 L171.0,72.1 L172.2,72.0 L173.4,71.8 L174.6,71.8 L175.8,71.6 L177.0,71.9 L178.2,71.5 L179.4,71.1 L180.6,71.6 L181.8,71.8 L183.0,71.8 L184.2,71.9 L185.4,72.4 L186.6,73.0 L187.8,73.5 L189.0,73.6 L190.2,73.9 L191.4,73.6 L192.6,73.6 L193.8,73.5 L195.0,73.3 L196.2,73.1 L197.4,73.0 L198.6,73.0 L199.8,72.9 L201.0,72.8 L202.2,73.0 L203.4,73.1 L204.6,72.9 L205.8,73.1 L207.0,73.1 L208.2,73.3 L209.4,73.1 L210.6,73.4 L211.8,73.3 L213.0,73.7 L214.2,73.8 L215.4,74.0 L216.6,74.0 L217.8,73.8 L219.0,73.6 L220.2,73.9 L221.4,73.4 L222.6,73.1 L223.8,73.0 L225.0,72.7 L226.2,73.0 L227.4,73.0 L228.6,73.3 L229.0,72.7 L229,75.8 Z" fill="#f5b04e"/>
<path d="M48.6,75.8 L48.6,74.3 L49.8,73.9 L51.0,74.0 L52.2,73.8 L53.4,73.6 L54.6,73.6 L55.8,72.9 L57.0,73.3 L58.2,72.4 L59.4,72.3 L60.6,71.7 L61.8,71.0 L63.0,71.1 L64.2,71.0 L65.4,70.9 L66.6,71.2 L67.8,71.8 L69.0,71.8 L70.2,72.3 L71.4,72.5 L72.6,72.9 L73.8,73.0 L75.0,73.2 L76.2,72.8 L77.4,73.1 L78.6,73.0 L79.8,73.3 L81.0,73.4 L82.2,73.2 L83.4,73.7 L84.6,74.0 L85.8,74.2 L87.0,74.3 L88.2,74.3 L89.4,74.3 L90.6,74.0 L91.8,74.3 L93.0,74.2 L94.2,74.3 L95.4,74.2 L96.6,74.1 L97.8,73.9 L99.0,74.2 L100.2,73.8 L101.4,73.8 L102.6,73.0 L103.8,73.0 L105.0,72.5 L106.2,73.4 L107.4,74.0 L108.6,74.6 L109.8,74.6 L111.0,74.5 L112.2,74.0 L113.4,73.0 L114.6,72.8 L115.8,73.4 L117.0,74.1 L118.2,74.7 L119.4,73.8 L120.6,72.6 L121.8,72.8 L123.0,72.3 L124.2,72.5 L125.4,71.9 L126.6,72.4 L127.8,72.1 L129.0,72.1 L130.2,72.4 L131.4,72.7 L132.6,73.1 L133.8,73.7 L135.0,73.9 L136.2,74.7 L137.4,74.8 L138.6,74.6 L139.8,74.4 L141.0,74.4 L142.2,74.0 L143.4,74.1 L144.6,74.1 L145.8,73.9 L147.0,73.8 L148.2,74.2 L149.4,73.8 L150.6,73.8 L151.8,73.6 L153.0,73.8 L154.2,73.3 L155.4,73.4 L156.6,73.0 L157.8,73.2 L159.0,73.1 L160.2,72.6 L161.4,72.6 L162.6,73.0 L163.8,73.1 L165.0,73.1 L166.2,73.2 L167.4,73.2 L168.6,72.7 L169.8,72.5 L171.0,72.6 L172.2,72.1 L173.4,72.4 L174.6,72.4 L175.8,72.2 L177.0,72.3 L178.2,72.1 L179.4,71.7 L180.6,72.0 L181.8,72.2 L183.0,72.0 L184.2,72.3 L185.4,72.6 L186.6,73.0 L187.8,73.5 L189.0,73.7 L190.2,74.0 L191.4,73.8 L192.6,73.6 L193.8,73.5 L195.0,73.5 L196.2,73.4 L197.4,73.2 L198.6,73.3 L199.8,73.2 L201.0,73.0 L202.2,73.2 L203.4,73.1 L204.6,73.1 L205.8,73.1 L207.0,73.1 L208.2,73.3 L209.4,73.1 L210.6,73.4 L211.8,73.3 L213.0,73.7 L214.2,73.8 L215.4,74.0 L216.6,74.0 L217.8,73.8 L219.0,73.6 L220.2,73.9 L221.4,73.5 L222.6,73.3 L223.8,73.2 L225.0,72.9 L226.2,73.2 L227.4,73.4 L228.6,73.6 L229.0,73.1 L229,75.8 Z" fill="#f0e368"/>
<path d="M48.6,75.8 L48.6,74.3 L49.8,73.9 L51.0,74.0 L52.2,73.8 L53.4,73.6 L54.6,73.6 L55.8,72.9 L57.0,73.3 L58.2,72.7 L59.4,72.6 L60.6,72.2 L61.8,71.7 L63.0,71.9 L64.2,71.8 L65.4,71.8 L66.6,72.3 L67.8,72.8 L69.0,72.9 L70.2,73.2 L71.4,73.4 L72.6,73.7 L73.8,73.8 L75.0,73.6 L76.2,73.4 L77.4,73.4 L78.6,73.5 L79.8,73.7 L81.0,73.6 L82.2,73.5 L83.4,73.8 L84.6,74.0 L85.8,74.3 L87.0,74.3 L88.2,74.3 L89.4,74.3 L90.6,74.0 L91.8,74.3 L93.0,74.2 L94.2,74.3 L95.4,74.2 L96.6,74.1 L97.8,73.9 L99.0,74.2 L100.2,74.0 L101.4,73.8 L102.6,73.1 L103.8,73.0 L105.0,72.7 L106.2,73.4 L107.4,74.0 L108.6,74.6 L109.8,74.6 L111.0,74.5 L112.2,74.0 L113.4,73.0 L114.6,72.8 L115.8,73.4 L117.0,74.1 L118.2,74.7 L119.4,73.8 L120.6,72.8 L121.8,73.2 L123.0,72.8 L124.2,73.0 L125.4,72.6 L126.6,72.9 L127.8,72.7 L129.0,72.6 L130.2,73.0 L131.4,73.2 L132.6,73.5 L133.8,73.9 L135.0,74.1 L136.2,74.7 L137.4,74.8 L138.6,74.6 L139.8,74.4 L141.0,74.4 L142.2,74.0 L143.4,74.1 L144.6,74.1 L145.8,73.9 L147.0,73.9 L148.2,74.2 L149.4,73.8 L150.6,73.8 L151.8,73.7 L153.0,73.8 L154.2,73.7 L155.4,73.5 L156.6,73.2 L157.8,73.5 L159.0,73.6 L160.2,73.2 L161.4,73.4 L162.6,73.7 L163.8,74.1 L165.0,74.1 L166.2,74.2 L167.4,74.3 L168.6,73.5 L169.8,73.4 L171.0,73.3 L172.2,73.0 L173.4,73.1 L174.6,72.9 L175.8,72.6 L177.0,72.5 L178.2,72.2 L179.4,71.7 L180.6,72.0 L181.8,72.2 L183.0,72.0 L184.2,72.3 L185.4,72.6 L186.6,73.0 L187.8,73.5 L189.0,73.7 L190.2,74.0 L191.4,73.8 L192.6,73.7 L193.8,73.7 L195.0,73.6 L196.2,73.6 L197.4,73.4 L198.6,73.8 L199.8,73.5 L201.0,73.7 L202.2,73.9 L203.4,73.7 L204.6,73.9 L205.8,74.0 L207.0,73.9 L208.2,74.2 L209.4,74.0 L210.6,74.4 L211.8,74.1 L213.0,74.4 L214.2,74.5 L215.4,74.7 L216.6,74.3 L217.8,74.2 L219.0,73.7 L220.2,74.1 L221.4,73.6 L222.6,73.4 L223.8,73.2 L225.0,72.9 L226.2,73.2 L227.4,73.4 L228.6,73.6 L229.0,73.3 L229,75.8 Z" fill="#9ae07a"/>
<path d="M48.6,75.8 L48.6,74.3 L49.8,73.9 L51.0,74.0 L52.2,73.9 L53.4,73.6 L54.6,73.6 L55.8,73.2 L57.0,73.5 L58.2,73.1 L59.4,73.0 L60.6,72.7 L61.8,72.2 L63.0,72.6 L64.2,72.7 L65.4,72.7 L66.6,73.1 L67.8,73.5 L69.0,73.6 L70.2,73.8 L71.4,74.1 L72.6,74.5 L73.8,74.2 L75.0,74.0 L76.2,73.9 L77.4,73.5 L78.6,73.5 L79.8,73.7 L81.0,73.7 L82.2,73.5 L83.4,73.8 L84.6,74.0 L85.8,74.3 L87.0,74.3 L88.2,74.3 L89.4,74.3 L90.6,74.0 L91.8,74.3 L93.0,74.2 L94.2,74.3 L95.4,74.4 L96.6,74.3 L97.8,74.2 L99.0,74.4 L100.2,74.3 L101.4,74.1 L102.6,73.7 L103.8,73.4 L105.0,73.3 L106.2,73.4 L107.4,74.0 L108.6,74.6 L109.8,74.6 L111.0,74.5 L112.2,74.0 L113.4,73.1 L114.6,73.4 L115.8,73.4 L117.0,74.1 L118.2,74.7 L119.4,73.8 L120.6,73.3 L121.8,73.5 L123.0,73.3 L124.2,73.3 L125.4,72.9 L126.6,73.3 L127.8,73.0 L129.0,72.9 L130.2,73.0 L131.4,73.2 L132.6,73.5 L133.8,73.9 L135.0,74.1 L136.2,74.7 L137.4,74.8 L138.6,74.6 L139.8,74.4 L141.0,74.4 L142.2,74.0 L143.4,74.1 L144.6,74.1 L145.8,74.0 L147.0,74.2 L148.2,74.4 L149.4,74.2 L150.6,74.4 L151.8,74.4 L153.0,74.6 L154.2,74.4 L155.4,74.4 L156.6,74.0 L157.8,74.3 L159.0,74.3 L160.2,74.1 L161.4,74.1 L162.6,74.3 L163.8,74.6 L165.0,74.5 L166.2,74.4 L167.4,74.3 L168.6,73.7 L169.8,73.5 L171.0,73.4 L172.2,73.0 L173.4,73.2 L174.6,72.9 L175.8,72.6 L177.0,72.5 L178.2,72.4 L179.4,71.9 L180.6,72.0 L181.8,72.2 L183.0,72.2 L184.2,72.3 L185.4,72.6 L186.6,73.0 L187.8,73.5 L189.0,73.7 L190.2,74.0 L191.4,73.8 L192.6,73.7 L193.8,73.7 L195.0,73.6 L196.2,73.6 L197.4,73.7 L198.6,74.0 L199.8,74.1 L201.0,74.4 L202.2,74.7 L203.4,74.8 L204.6,74.8 L205.8,75.0 L207.0,74.9 L208.2,75.1 L209.4,75.0 L210.6,75.0 L211.8,74.9 L213.0,75.0 L214.2,75.0 L215.4,74.8 L216.6,74.5 L217.8,74.2 L219.0,73.7 L220.2,74.1 L221.4,73.6 L222.6,73.4 L223.8,73.2 L225.0,72.9 L226.2,73.2 L227.4,73.4 L228.6,73.6 L229.0,73.4 L229,75.8 Z" fill="#62d2e0"/>
<path d="M48.6,75.8 L48.6,75.0 L49.8,74.6 L51.0,74.5 L52.2,74.4 L53.4,74.2 L54.6,74.1 L55.8,73.9 L57.0,73.9 L58.2,73.9 L59.4,73.7 L60.6,73.3 L61.8,72.9 L63.0,72.9 L64.2,73.0 L65.4,72.9 L66.6,73.2 L67.8,73.5 L69.0,73.6 L70.2,73.8 L71.4,74.1 L72.6,74.5 L73.8,74.2 L75.0,74.0 L76.2,73.9 L77.4,73.5 L78.6,73.5 L79.8,73.7 L81.0,73.7 L82.2,73.5 L83.4,73.8 L84.6,74.0 L85.8,74.3 L87.0,74.3 L88.2,74.4 L89.4,74.7 L90.6,74.6 L91.8,74.9 L93.0,75.0 L94.2,75.3 L95.4,75.3 L96.6,75.4 L97.8,75.4 L99.0,75.6 L100.2,75.5 L101.4,75.3 L102.6,74.8 L103.8,74.7 L105.0,74.5 L106.2,74.2 L107.4,74.3 L108.6,74.6 L109.8,74.6 L111.0,74.5 L112.2,74.5 L113.4,74.1 L114.6,74.3 L115.8,73.9 L117.0,74.1 L118.2,74.7 L119.4,73.8 L120.6,73.5 L121.8,73.5 L123.0,73.4 L124.2,73.3 L125.4,73.1 L126.6,73.3 L127.8,73.0 L129.0,73.0 L130.2,73.0 L131.4,73.2 L132.6,73.5 L133.8,73.9 L135.0,74.1 L136.2,74.7 L137.4,74.8 L138.6,74.6 L139.8,74.5 L141.0,74.5 L142.2,74.4 L143.4,74.5 L144.6,74.5 L145.8,74.6 L147.0,74.6 L148.2,74.7 L149.4,74.8 L150.6,74.9 L151.8,74.8 L153.0,74.9 L154.2,74.7 L155.4,74.7 L156.6,74.4 L157.8,74.7 L159.0,74.9 L160.2,74.9 L161.4,75.0 L162.6,75.1 L163.8,75.5 L165.0,75.2 L166.2,75.1 L167.4,75.0 L168.6,74.4 L169.8,74.2 L171.0,74.1 L172.2,73.8 L173.4,73.9 L174.6,73.8 L175.8,73.5 L177.0,73.4 L178.2,73.4 L179.4,73.0 L180.6,73.1 L181.8,73.3 L183.0,73.1 L184.2,73.3 L185.4,73.4 L186.6,73.7 L187.8,74.1 L189.0,74.3 L190.2,74.4 L191.4,74.5 L192.6,74.3 L193.8,74.2 L195.0,74.0 L196.2,73.8 L197.4,73.9 L198.6,74.0 L199.8,74.1 L201.0,74.4 L202.2,74.7 L203.4,74.8 L204.6,74.8 L205.8,75.0 L207.0,74.9 L208.2,75.1 L209.4,75.0 L210.6,75.0 L211.8,74.9 L213.0,75.0 L214.2,75.0 L215.4,74.8 L216.6,74.7 L217.8,74.4 L219.0,74.0 L220.2,74.2 L221.4,73.9 L222.6,73.9 L223.8,73.7 L225.0,73.8 L226.2,74.1 L227.4,74.4 L228.6,74.8 L229.0,74.6 L229,75.8 Z" fill="#6f8ef2"/>
<path d="M48.6,75.8 L48.6,75.0 L49.8,75.0 L51.0,75.1 L52.2,75.0 L53.4,75.2 L54.6,75.1 L55.8,75.0 L57.0,75.1 L58.2,75.1 L59.4,75.0 L60.6,75.0 L61.8,74.8 L63.0,74.9 L64.2,74.9 L65.4,74.8 L66.6,74.6 L67.8,74.6 L69.0,74.6 L70.2,74.6 L71.4,74.7 L72.6,74.8 L73.8,74.7 L75.0,74.7 L76.2,74.7 L77.4,74.5 L78.6,74.5 L79.8,74.5 L81.0,74.4 L82.2,74.1 L83.4,74.4 L84.6,74.3 L85.8,74.3 L87.0,74.4 L88.2,74.5 L89.4,74.7 L90.6,74.6 L91.8,74.9 L93.0,75.0 L94.2,75.3 L95.4,75.3 L96.6,75.4 L97.8,75.4 L99.0,75.6 L100.2,75.5 L101.4,75.4 L102.6,75.4 L103.8,75.6 L105.0,75.5 L106.2,75.4 L107.4,75.5 L108.6,75.4 L109.8,75.4 L111.0,75.2 L112.2,75.3 L113.4,75.2 L114.6,75.2 L115.8,75.0 L117.0,75.0 L118.2,74.8 L119.4,74.7 L120.6,74.6 L121.8,74.6 L123.0,74.5 L124.2,74.4 L125.4,74.5 L126.6,74.6 L127.8,74.4 L129.0,74.7 L130.2,74.5 L131.4,74.7 L132.6,74.8 L133.8,74.7 L135.0,74.7 L136.2,74.8 L137.4,74.8 L138.6,74.6 L139.8,74.5 L141.0,74.5 L142.2,74.4 L143.4,74.5 L144.6,74.5 L145.8,74.6 L147.0,74.6 L148.2,74.7 L149.4,74.8 L150.6,74.9 L151.8,74.8 L153.0,75.1 L154.2,75.1 L155.4,75.2 L156.6,75.0 L157.8,75.1 L159.0,75.3 L160.2,75.1 L161.4,75.2 L162.6,75.3 L163.8,75.5 L165.0,75.4 L166.2,75.6 L167.4,75.8 L168.6,75.6 L169.8,75.6 L171.0,75.7 L172.2,75.4 L173.4,75.6 L174.6,75.4 L175.8,75.3 L177.0,75.1 L178.2,74.9 L179.4,74.6 L180.6,74.6 L181.8,74.5 L183.0,74.4 L184.2,74.4 L185.4,74.2 L186.6,74.3 L187.8,74.5 L189.0,74.4 L190.2,74.4 L191.4,74.5 L192.6,74.5 L193.8,74.5 L195.0,74.4 L196.2,74.5 L197.4,74.5 L198.6,74.6 L199.8,74.6 L201.0,74.7 L202.2,74.7 L203.4,74.8 L204.6,74.8 L205.8,75.0 L207.0,74.9 L208.2,75.1 L209.4,75.0 L210.6,75.0 L211.8,74.9 L213.0,75.0 L214.2,75.0 L215.4,75.0 L216.6,74.9 L217.8,74.9 L219.0,74.9 L220.2,75.1 L221.4,75.2 L222.6,75.3 L223.8,75.4 L225.0,75.5 L226.2,75.6 L227.4,75.6 L228.6,75.7 L229.0,75.5 L229,75.8 Z" fill="#a66ee6"/>
<path d="M48.6,87.8 L48.6,86.8 L49.8,86.3 L51.0,85.4 L52.2,84.7 L53.4,83.5 L54.6,82.9 L55.8,82.8 L57.0,83.1 L58.2,83.9 L59.4,83.5 L60.6,84.0 L61.8,83.5 L63.0,83.5 L64.2,83.5 L65.4,83.9 L66.6,83.9 L67.8,83.6 L69.0,84.1 L70.2,84.2 L71.4,85.0 L72.6,85.1 L73.8,85.2 L75.0,85.3 L76.2,85.4 L77.4,85.7 L78.6,85.7 L79.8,85.2 L81.0,85.5 L82.2,84.8 L83.4,84.7 L84.6,84.2 L85.8,83.8 L87.0,83.7 L88.2,83.6 L89.4,83.4 L90.6,83.4 L91.8,84.7 L93.0,85.3 L94.2,84.8 L95.4,83.8 L96.6,83.6 L97.8,84.3 L99.0,84.2 L100.2,85.2 L101.4,85.1 L102.6,84.9 L103.8,85.1 L105.0,85.5 L106.2,85.0 L107.4,85.0 L108.6,84.9 L109.8,84.4 L111.0,84.2 L112.2,84.7 L113.4,84.6 L114.6,84.7 L115.8,84.5 L117.0,84.5 L118.2,83.9 L119.4,84.3 L120.6,84.6 L121.8,84.2 L123.0,84.8 L124.2,85.3 L125.4,84.6 L126.6,85.0 L127.8,85.9 L129.0,86.1 L130.2,86.1 L131.4,85.2 L132.6,85.1 L133.8,85.2 L135.0,84.9 L136.2,84.8 L137.4,84.2 L138.6,84.9 L139.8,84.4 L141.0,84.9 L142.2,84.4 L143.4,85.4 L144.6,85.2 L145.8,85.5 L147.0,85.2 L148.2,85.7 L149.4,85.9 L150.6,86.0 L151.8,85.9 L153.0,86.3 L154.2,85.9 L155.4,85.9 L156.6,85.8 L157.8,86.3 L159.0,85.8 L160.2,85.9 L161.4,85.8 L162.6,86.4 L163.8,86.3 L165.0,86.3 L166.2,85.8 L167.4,86.3 L168.6,86.2 L169.8,86.0 L171.0,85.9 L172.2,86.9 L173.4,86.1 L174.6,86.3 L175.8,86.3 L177.0,86.6 L178.2,86.2 L179.4,86.6 L180.6,86.5 L181.8,87.0 L183.0,86.2 L184.2,86.6 L185.4,86.8 L186.6,87.3 L187.8,86.9 L189.0,86.8 L190.2,87.1 L191.4,86.7 L192.6,86.5 L193.8,86.7 L195.0,85.9 L196.2,84.5 L197.4,82.9 L198.6,82.3 L199.8,81.6 L201.0,80.1 L202.2,79.8 L203.4,80.2 L204.6,80.7 L205.8,81.4 L207.0,81.2 L208.2,81.1 L209.4,80.5 L210.6,80.5 L211.8,79.9 L213.0,80.3 L214.2,79.8 L215.4,79.1 L216.6,79.9 L217.8,79.3 L219.0,79.6 L220.2,79.7 L221.4,79.4 L222.6,79.2 L223.8,79.2 L225.0,78.7 L226.2,79.3 L227.4,78.4 L228.6,79.0 L229.0,78.3 L229,87.8 Z" fill="#f47b7a"/>
<path d="M48.6,87.8 L48.6,86.8 L49.8,86.3 L51.0,86.3 L52.2,85.9 L53.4,86.3 L54.6,85.4 L55.8,86.1 L57.0,85.4 L58.2,85.4 L59.4,85.2 L60.6,85.8 L61.8,85.3 L63.0,84.9 L64.2,85.7 L65.4,85.2 L66.6,85.4 L67.8,85.6 L69.0,85.0 L70.2,85.8 L71.4,86.1 L72.6,86.0 L73.8,85.9 L75.0,85.9 L76.2,85.5 L77.4,85.7 L78.6,85.7 L79.8,85.2 L81.0,85.5 L82.2,84.9 L83.4,85.1 L84.6,85.3 L85.8,85.7 L87.0,86.0 L88.2,86.0 L89.4,86.0 L90.6,85.9 L91.8,86.3 L93.0,86.4 L94.2,86.0 L95.4,86.3 L96.6,85.9 L97.8,85.9 L99.0,85.9 L100.2,85.5 L101.4,85.6 L102.6,85.3 L103.8,86.0 L105.0,85.5 L106.2,85.8 L107.4,85.5 L108.6,85.7 L109.8,85.9 L111.0,86.2 L112.2,86.0 L113.4,85.9 L114.6,86.0 L115.8,86.1 L117.0,85.9 L118.2,85.6 L119.4,85.7 L120.6,85.5 L121.8,85.7 L123.0,85.8 L124.2,85.4 L125.4,86.0 L126.6,85.7 L127.8,85.9 L129.0,86.1 L130.2,86.1 L131.4,85.2 L132.6,85.1 L133.8,85.2 L135.0,84.9 L136.2,84.8 L137.4,85.2 L138.6,86.0 L139.8,86.2 L141.0,85.9 L142.2,86.5 L143.4,86.3 L144.6,86.1 L145.8,86.3 L147.0,85.8 L148.2,85.8 L149.4,85.9 L150.6,86.0 L151.8,85.9 L153.0,86.3 L154.2,85.9 L155.4,85.9 L156.6,85.8 L157.8,86.3 L159.0,85.8 L160.2,85.9 L161.4,85.8 L162.6,86.4 L163.8,86.3 L165.0,86.3 L166.2,85.9 L167.4,86.3 L168.6,86.2 L169.8,86.0 L171.0,85.9 L172.2,86.9 L173.4,86.1 L174.6,86.3 L175.8,86.3 L177.0,86.6 L178.2,86.2 L179.4,86.6 L180.6,86.5 L181.8,87.0 L183.0,86.2 L184.2,86.6 L185.4,86.8 L186.6,87.3 L187.8,86.9 L189.0,86.8 L190.2,87.1 L191.4,86.7 L192.6,86.5 L193.8,86.7 L195.0,85.9 L196.2,85.8 L197.4,85.9 L198.6,85.8 L199.8,85.7 L201.0,86.2 L202.2,85.8 L203.4,85.8 L204.6,85.4 L205.8,85.6 L207.0,85.0 L208.2,85.2 L209.4,85.2 L210.6,85.1 L211.8,85.2 L213.0,85.6 L214.2,85.2 L215.4,85.8 L216.6,85.7 L217.8,85.4 L219.0,85.4 L220.2,85.2 L221.4,85.6 L222.6,85.3 L223.8,85.8 L225.0,85.5 L226.2,85.5 L227.4,85.4 L228.6,85.7 L229.0,86.2 L229,87.8 Z" fill="#f5b04e"/>
<path d="M48.6,87.8 L48.6,86.8 L49.8,86.3 L51.0,86.3 L52.2,86.1 L53.4,86.5 L54.6,85.8 L55.8,86.3 L57.0,85.6 L58.2,85.8 L59.4,85.6 L60.6,86.2 L61.8,85.8 L63.0,85.5 L64.2,86.3 L65.4,86.0 L66.6,86.2 L67.8,86.4 L69.0,86.0 L70.2,86.7 L71.4,86.7 L72.6,86.6 L73.8,86.3 L75.0,86.5 L76.2,85.9 L77.4,85.9 L78.6,85.7 L79.8,85.2 L81.0,85.5 L82.2,85.1 L83.4,85.2 L84.6,85.4 L85.8,85.8 L87.0,86.0 L88.2,86.0 L89.4,86.1 L90.6,86.1 L91.8,86.4 L93.0,86.6 L94.2,86.2 L95.4,86.5 L96.6,86.1 L97.8,86.2 L99.0,86.0 L100.2,85.7 L101.4,85.6 L102.6,85.6 L103.8,86.0 L105.0,85.8 L106.2,86.0 L107.4,85.9 L108.6,86.2 L109.8,86.1 L111.0,86.4 L112.2,86.2 L113.4,86.1 L114.6,86.5 L115.8,86.4 L117.0,86.5 L118.2,86.4 L119.4,86.5 L120.6,86.5 L121.8,86.6 L123.0,86.6 L124.2,86.4 L125.4,86.7 L126.6,86.4 L127.8,85.9 L129.0,86.3 L130.2,86.1 L131.4,85.6 L132.6,85.6 L133.8,85.5 L135.0,85.2 L136.2,85.2 L137.4,85.5 L138.6,86.0 L139.8,86.3 L141.0,85.9 L142.2,86.5 L143.4,86.3 L144.6,86.1 L145.8,86.3 L147.0,86.1 L148.2,85.9 L149.4,85.9 L150.6,86.0 L151.8,85.9 L153.0,86.3 L154.2,85.9 L155.4,85.9 L156.6,85.9 L157.8,86.3 L159.0,85.9 L160.2,86.2 L161.4,86.3 L162.6,86.5 L163.8,86.4 L165.0,86.4 L166.2,86.3 L167.4,86.5 L168.6,86.3 L169.8,86.2 L171.0,86.0 L172.2,86.9 L173.4,86.3 L174.6,86.3 L175.8,86.3 L177.0,86.6 L178.2,86.2 L179.4,86.6 L180.6,86.5 L181.8,87.0 L183.0,86.2 L184.2,86.6 L185.4,86.8 L186.6,87.3 L187.8,86.9 L189.0,86.8 L190.2,87.1 L191.4,86.7 L192.6,86.5 L193.8,86.7 L195.0,85.9 L196.2,85.8 L197.4,85.9 L198.6,85.8 L199.8,85.7 L201.0,86.2 L202.2,85.9 L203.4,85.8 L204.6,85.6 L205.8,85.7 L207.0,85.3 L208.2,85.3 L209.4,85.4 L210.6,85.5 L211.8,85.5 L213.0,86.1 L214.2,85.5 L215.4,86.3 L216.6,86.1 L217.8,86.1 L219.0,85.9 L220.2,85.8 L221.4,86.1 L222.6,85.8 L223.8,86.1 L225.0,85.8 L226.2,85.9 L227.4,86.0 L228.6,86.4 L229.0,86.6 L229,87.8 Z" fill="#f0e368"/>
<path d="M48.6,87.8 L48.6,86.8 L49.8,86.3 L51.0,86.6 L52.2,86.4 L53.4,86.9 L54.6,86.1 L55.8,86.5 L57.0,85.9 L58.2,86.0 L59.4,85.8 L60.6,86.3 L61.8,86.0 L63.0,85.7 L64.2,86.3 L65.4,86.0 L66.6,86.2 L67.8,86.4 L69.0,86.0 L70.2,86.7 L71.4,86.7 L72.6,86.8 L73.8,86.7 L75.0,86.9 L76.2,86.5 L77.4,86.4 L78.6,86.2 L79.8,86.0 L81.0,85.9 L82.2,85.7 L83.4,85.9 L84.6,86.1 L85.8,86.4 L87.0,86.5 L88.2,86.5 L89.4,86.9 L90.6,86.8 L91.8,87.1 L93.0,87.2 L94.2,87.1 L95.4,87.2 L96.6,86.9 L97.8,87.0 L99.0,86.7 L100.2,86.5 L101.4,86.5 L102.6,86.4 L103.8,86.8 L105.0,86.6 L106.2,86.7 L107.4,86.7 L108.6,86.6 L109.8,86.6 L111.0,86.7 L112.2,86.5 L113.4,86.1 L114.6,86.5 L115.8,86.4 L117.0,86.5 L118.2,86.5 L119.4,86.7 L120.6,86.8 L121.8,86.8 L123.0,86.9 L124.2,86.7 L125.4,87.0 L126.6,86.5 L127.8,86.1 L129.0,86.3 L130.2,86.1 L131.4,85.7 L132.6,85.8 L133.8,85.6 L135.0,85.4 L136.2,85.4 L137.4,85.7 L138.6,86.3 L139.8,86.5 L141.0,86.1 L142.2,86.8 L143.4,86.8 L144.6,86.8 L145.8,86.9 L147.0,86.9 L148.2,86.8 L149.4,86.5 L150.6,86.6 L151.8,86.4 L153.0,86.6 L154.2,86.5 L155.4,86.5 L156.6,86.7 L157.8,86.5 L159.0,86.5 L160.2,86.7 L161.4,86.8 L162.6,87.1 L163.8,87.1 L165.0,87.1 L166.2,86.9 L167.4,87.0 L168.6,87.0 L169.8,86.9 L171.0,86.6 L172.2,86.9 L173.4,86.6 L174.6,86.6 L175.8,86.5 L177.0,86.6 L178.2,86.5 L179.4,86.6 L180.6,86.5 L181.8,87.0 L183.0,86.2 L184.2,86.6 L185.4,86.8 L186.6,87.3 L187.8,86.9 L189.0,86.8 L190.2,87.1 L191.4,86.7 L192.6,86.5 L193.8,86.7 L195.0,86.3 L196.2,86.4 L197.4,86.4 L198.6,86.3 L199.8,86.2 L201.0,86.6 L202.2,86.4 L203.4,86.1 L204.6,86.0 L205.8,86.3 L207.0,86.0 L208.2,86.0 L209.4,86.1 L210.6,86.2 L211.8,86.3 L213.0,86.9 L214.2,86.2 L215.4,86.9 L216.6,87.0 L217.8,87.0 L219.0,86.9 L220.2,86.8 L221.4,87.0 L222.6,86.8 L223.8,87.1 L225.0,86.7 L226.2,86.7 L227.4,86.8 L228.6,86.8 L229.0,86.9 L229,87.8 Z" fill="#9ae07a"/>
<path d="M48.6,87.8 L48.6,86.8 L49.8,86.3 L51.0,86.8 L52.2,86.7 L53.4,87.0 L54.6,86.4 L55.8,86.7 L57.0,86.1 L58.2,86.5 L59.4,86.2 L60.6,86.6 L61.8,86.4 L63.0,86.0 L64.2,86.7 L65.4,86.5 L66.6,86.8 L67.8,86.8 L69.0,86.6 L70.2,87.0 L71.4,87.0 L72.6,87.1 L73.8,86.9 L75.0,87.1 L76.2,86.9 L77.4,86.8 L78.6,86.6 L79.8,86.5 L81.0,86.4 L82.2,86.4 L83.4,86.6 L84.6,86.6 L85.8,86.8 L87.0,86.8 L88.2,86.8 L89.4,87.0 L90.6,86.8 L91.8,87.1 L93.0,87.2 L94.2,87.1 L95.4,87.2 L96.6,86.9 L97.8,87.0 L99.0,86.7 L100.2,86.5 L101.4,86.5 L102.6,86.4 L103.8,86.8 L105.0,86.6 L106.2,86.7 L107.4,86.7 L108.6,86.7 L109.8,86.6 L111.0,86.7 L112.2,86.6 L113.4,86.2 L114.6,86.6 L115.8,86.6 L117.0,86.5 L118.2,86.6 L119.4,86.7 L120.6,86.9 L121.8,86.8 L123.0,86.9 L124.2,86.7 L125.4,87.1 L126.6,86.8 L127.8,86.6 L129.0,86.8 L130.2,86.4 L131.4,86.3 L132.6,86.4 L133.8,86.2 L135.0,86.1 L136.2,86.1 L137.4,86.2 L138.6,86.6 L139.8,86.8 L141.0,86.6 L142.2,87.0 L143.4,87.1 L144.6,87.0 L145.8,87.1 L147.0,87.2 L148.2,87.1 L149.4,86.9 L150.6,87.1 L151.8,86.7 L153.0,86.8 L154.2,86.7 L155.4,86.6 L156.6,86.8 L157.8,86.8 L159.0,86.7 L160.2,86.9 L161.4,86.9 L162.6,87.1 L163.8,87.1 L165.0,87.1 L166.2,86.9 L167.4,87.0 L168.6,87.0 L169.8,86.9 L171.0,86.6 L172.2,86.9 L173.4,86.6 L174.6,86.6 L175.8,86.5 L177.0,86.6 L178.2,86.5 L179.4,86.6 L180.6,86.5 L181.8,87.0 L183.0,86.3 L184.2,86.6 L185.4,86.8 L186.6,87.3 L187.8,86.9 L189.0,86.8 L190.2,87.1 L191.4,86.7 L192.6,86.5 L193.8,86.7 L195.0,86.6 L196.2,86.7 L197.4,86.7 L198.6,86.8 L199.8,86.7 L201.0,87.0 L202.2,86.8 L203.4,86.7 L204.6,86.7 L205.8,86.9 L207.0,86.7 L208.2,86.7 L209.4,86.8 L210.6,86.8 L211.8,86.8 L213.0,87.2 L214.2,86.8 L215.4,87.2 L216.6,87.1 L217.8,87.0 L219.0,86.9 L220.2,87.0 L221.4,87.2 L222.6,86.9 L223.8,87.2 L225.0,86.9 L226.2,87.0 L227.4,87.0 L228.6,87.1 L229.0,87.0 L229,87.8 Z" fill="#62d2e0"/>
<path d="M48.6,87.8 L48.6,86.8 L49.8,86.7 L51.0,87.2 L52.2,87.1 L53.4,87.2 L54.6,86.9 L55.8,87.1 L57.0,86.7 L58.2,87.0 L59.4,86.8 L60.6,87.0 L61.8,87.0 L63.0,86.6 L64.2,87.1 L65.4,87.1 L66.6,87.2 L67.8,87.3 L69.0,87.2 L70.2,87.5 L71.4,87.4 L72.6,87.4 L73.8,87.0 L75.0,87.2 L76.2,86.9 L77.4,86.8 L78.6,86.6 L79.8,86.5 L81.0,86.4 L82.2,86.4 L83.4,86.6 L84.6,86.6 L85.8,86.8 L87.0,86.9 L88.2,86.9 L89.4,87.1 L90.6,87.0 L91.8,87.1 L93.0,87.3 L94.2,87.2 L95.4,87.2 L96.6,86.9 L97.8,87.0 L99.0,86.7 L100.2,86.5 L101.4,86.5 L102.6,86.4 L103.8,86.8 L105.0,86.7 L106.2,86.8 L107.4,86.9 L108.6,87.1 L109.8,86.9 L111.0,87.2 L112.2,87.2 L113.4,87.0 L114.6,87.2 L115.8,87.3 L117.0,87.1 L118.2,87.2 L119.4,87.4 L120.6,87.2 L121.8,87.2 L123.0,87.2 L124.2,86.9 L125.4,87.2 L126.6,87.0 L127.8,86.9 L129.0,87.0 L130.2,86.5 L131.4,86.7 L132.6,86.7 L133.8,86.5 L135.0,86.4 L136.2,86.4 L137.4,86.6 L138.6,86.8 L139.8,86.9 L141.0,86.8 L142.2,87.1 L143.4,87.1 L144.6,87.1 L145.8,87.1 L147.0,87.2 L148.2,87.1 L149.4,86.9 L150.6,87.1 L151.8,86.7 L153.0,86.8 L154.2,86.7 L155.4,86.6 L156.6,86.8 L157.8,86.8 L159.0,86.9 L160.2,87.1 L161.4,87.1 L162.6,87.4 L163.8,87.3 L165.0,87.5 L166.2,87.3 L167.4,87.4 L168.6,87.4 L169.8,87.2 L171.0,87.1 L172.2,87.2 L173.4,87.0 L174.6,86.9 L175.8,87.0 L177.0,86.9 L178.2,86.9 L179.4,86.8 L180.6,86.6 L181.8,87.0 L183.0,86.6 L184.2,86.6 L185.4,86.8 L186.6,87.3 L187.8,86.9 L189.0,86.8 L190.2,87.1 L191.4,86.7 L192.6,86.7 L193.8,86.7 L195.0,86.9 L196.2,86.9 L197.4,86.8 L198.6,86.9 L199.8,86.7 L201.0,87.0 L202.2,86.8 L203.4,86.7 L204.6,86.7 L205.8,86.9 L207.0,86.7 L208.2,86.7 L209.4,86.8 L210.6,86.8 L211.8,86.9 L213.0,87.2 L214.2,87.0 L215.4,87.2 L216.6,87.2 L217.8,87.3 L219.0,87.2 L220.2,87.2 L221.4,87.3 L222.6,87.2 L223.8,87.3 L225.0,86.9 L226.2,87.0 L227.4,87.1 L228.6,87.1 L229.0,87.0 L229,87.8 Z" fill="#6f8ef2"/>
<path d="M48.6,87.8 L48.6,86.9 L49.8,86.9 L51.0,87.2 L52.2,87.1 L53.4,87.3 L54.6,87.1 L55.8,87.3 L57.0,87.1 L58.2,87.2 L59.4,87.4 L60.6,87.4 L61.8,87.4 L63.0,87.2 L64.2,87.5 L65.4,87.5 L66.6,87.6 L67.8,87.6 L69.0,87.6 L70.2,87.8 L71.4,87.7 L72.6,87.8 L73.8,87.7 L75.0,87.8 L76.2,87.7 L77.4,87.8 L78.6,87.7 L79.8,87.6 L81.0,87.5 L82.2,87.4 L83.4,87.6 L84.6,87.5 L85.8,87.4 L87.0,87.3 L88.2,87.4 L89.4,87.4 L90.6,87.2 L91.8,87.3 L93.0,87.3 L94.2,87.3 L95.4,87.2 L96.6,87.0 L97.8,87.1 L99.0,86.8 L100.2,86.8 L101.4,86.7 L102.6,86.7 L103.8,86.9 L105.0,86.9 L106.2,86.8 L107.4,86.9 L108.6,87.1 L109.8,87.0 L111.0,87.3 L112.2,87.2 L113.4,87.0 L114.6,87.2 L115.8,87.3 L117.0,87.1 L118.2,87.2 L119.4,87.4 L120.6,87.4 L121.8,87.3 L123.0,87.3 L124.2,87.2 L125.4,87.5 L126.6,87.3 L127.8,87.4 L129.0,87.5 L130.2,87.4 L131.4,87.4 L132.6,87.5 L133.8,87.5 L135.0,87.4 L136.2,87.3 L137.4,87.4 L138.6,87.5 L139.8,87.4 L141.0,87.4 L142.2,87.5 L143.4,87.4 L144.6,87.6 L145.8,87.4 L147.0,87.6 L148.2,87.7 L149.4,87.5 L150.6,87.6 L151.8,87.4 L153.0,87.5 L154.2,87.5 L155.4,87.4 L156.6,87.5 L157.8,87.3 L159.0,87.3 L160.2,87.4 L161.4,87.2 L162.6,87.5 L163.8,87.3 L165.0,87.5 L166.2,87.3 L167.4,87.4 L168.6,87.4 L169.8,87.2 L171.0,87.1 L172.2,87.2 L173.4,87.0 L174.6,86.9 L175.8,87.0 L177.0,86.9 L178.2,87.0 L179.4,86.8 L180.6,86.8 L181.8,87.0 L183.0,87.0 L184.2,87.1 L185.4,86.9 L186.6,87.3 L187.8,86.9 L189.0,87.0 L190.2,87.2 L191.4,87.0 L192.6,87.0 L193.8,87.1 L195.0,87.1 L196.2,87.2 L197.4,87.2 L198.6,87.3 L199.8,87.4 L201.0,87.6 L202.2,87.7 L203.4,87.6 L204.6,87.7 L205.8,87.8 L207.0,87.8 L208.2,87.8 L209.4,87.8 L210.6,87.7 L211.8,87.6 L213.0,87.7 L214.2,87.5 L215.4,87.6 L216.6,87.5 L217.8,87.5 L219.0,87.4 L220.2,87.5 L221.4,87.3 L222.6,87.5 L223.8,87.4 L225.0,87.3 L226.2,87.3 L227.4,87.3 L228.6,87.4 L229.0,87.2 L229,87.8 Z" fill="#a66ee6"/>
<text x="54.4" y="91.6" font-size="3.4" fill="#333" text-anchor="end" textLength="6" lengthAdjust="spacingAndGlyphs" stroke="#333" stroke-width="0.06">CTCF</text>
<rect x="58.7" y="89.2" width="16" height="2.8" fill="#050505"/>
<line x1="63" y1="89.2" x2="63" y2="92" stroke="#2bb34a" stroke-width="0.6"/>
<rect x="77" y="90.2" width="3" height="0.8" fill="#bbb"/>
<rect x="81" y="90.2" width="3" height="0.8" fill="#bbb"/>
<rect x="86" y="90.2" width="2" height="0.8" fill="#bbb"/>
<rect x="90" y="90.2" width="6" height="0.8" fill="#bbb"/>
<rect x="98" y="90.2" width="3" height="0.8" fill="#bbb"/>
<rect x="103" y="90.2" width="2" height="0.8" fill="#bbb"/>
<rect x="108" y="90.2" width="1" height="0.8" fill="#bbb"/>
<rect x="110" y="89.6" width="15" height="1.8" fill="#8a8a8a"/>
<rect x="127" y="90.2" width="3" height="0.8" fill="#c4c4c4"/>
<rect x="133" y="90.2" width="3" height="0.8" fill="#c4c4c4"/>
<rect x="140" y="90.2" width="6" height="0.8" fill="#c4c4c4"/>
<rect x="149" y="90.2" width="3" height="0.8" fill="#c4c4c4"/>
<rect x="155" y="90.2" width="5" height="0.8" fill="#c4c4c4"/>
<rect x="163" y="90.2" width="4" height="0.8" fill="#c4c4c4"/>
<text x="56.3" y="95.6" font-size="3.4" fill="#333" text-anchor="end" textLength="8.6" lengthAdjust="spacingAndGlyphs" stroke="#333" stroke-width="0.06">RAD21</text>
<rect x="60.2" y="93.6" width="6.8" height="2.4" fill="#bdbdbd"/>
<rect x="69" y="94.4" width="3" height="0.8" fill="#ddd"/>
<text x="99.6" y="95.6" font-size="3.4" fill="#333" text-anchor="end" textLength="9.2" lengthAdjust="spacingAndGlyphs" stroke="#333" stroke-width="0.06">RUNX3</text>
<rect x="101.5" y="93.4" width="2" height="2.6" fill="#444"/>
<rect x="105.5" y="93.6" width="1.5" height="2.2" fill="#ddd"/>
<text x="136.3" y="95.6" font-size="3.4" fill="#333" text-anchor="end" textLength="6.3" lengthAdjust="spacingAndGlyphs" stroke="#333" stroke-width="0.06">EBF1</text>
<rect x="138.5" y="93.4" width="7.4" height="2.6" fill="#c8c8c8"/>
<rect x="148" y="93.8" width="1.6" height="1.8" fill="#e0e0e0"/>
<text x="80.4" y="99.6" font-size="3.4" fill="#333" text-anchor="end" textLength="7.7" lengthAdjust="spacingAndGlyphs" stroke="#333" stroke-width="0.06">RELA</text>
<rect x="82.3" y="96.8" width="8.1" height="3.2" fill="#a6a6a6"/>
<rect x="92.3" y="98.0" width="3.5" height="1.4" fill="#e0e0e0"/>
<text x="204.4" y="91.5" font-size="3.6" fill="#333" text-anchor="end" textLength="7.2" lengthAdjust="spacingAndGlyphs">NFIC</text>
<rect x="205" y="88.4" width="15" height="3.6" fill="#7a7a7a"/>
<text x="223.6" y="91.5" font-size="3.6" fill="#8a8a8a">G</text>
<text x="204.4" y="95.58" font-size="3.6" fill="#333" text-anchor="end" textLength="8.8" lengthAdjust="spacingAndGlyphs">TCF12</text>
<rect x="205" y="92.48" width="5.5" height="3.6" fill="#dcdcdc"/>
<rect x="210.5" y="92.48" width="3.5" height="3.6" fill="#f0f0f0"/>
<text x="204.4" y="99.66" font-size="3.6" fill="#333" text-anchor="end" textLength="5.6" lengthAdjust="spacingAndGlyphs">PML</text>
<rect x="205" y="96.56" width="17.80000000000001" height="3.6" fill="#cfcfcf"/>
<text x="225.7" y="99.66" font-size="3.6" fill="#8a8a8a">G</text>
<text x="205.3" y="103.74" font-size="3.6" fill="#333" text-anchor="end" textLength="10.4" lengthAdjust="spacingAndGlyphs">POU2F2</text>
<rect x="206" y="100.64" width="12.699999999999989" height="3.6" fill="#050505"/>
<line x1="208.8" y1="100.64" x2="208.8" y2="104.24" stroke="#2bb34a" stroke-width="0.7"/>
<text x="221" y="103.74" font-size="3.6" fill="#8a8a8a">Gg</text>
<text x="204.4" y="107.82000000000001" font-size="3.6" fill="#333" text-anchor="end" textLength="10.4" lengthAdjust="spacingAndGlyphs">BCL11A</text>
<rect x="205" y="104.72000000000001" width="9" height="3.6" fill="#dadada"/>
<rect x="214" y="104.72000000000001" width="4" height="3.6" fill="#f0f0f0"/>
<text x="206.3" y="111.89999999999999" font-size="3.6" fill="#333" text-anchor="end" textLength="7.2" lengthAdjust="spacingAndGlyphs">RELA</text>
<rect x="207" y="108.8" width="21" height="3.6" fill="#7a7a7a"/>
<line x1="224" y1="108.8" x2="224" y2="112.39999999999999" stroke="#2bb34a" stroke-width="0.7"/>
<text x="204.4" y="115.98" font-size="3.6" fill="#333" text-anchor="end" textLength="7.2" lengthAdjust="spacingAndGlyphs">IRF4</text>
<rect x="205" y="112.88000000000001" width="6" height="3.6" fill="#d6d6d6"/>
<rect x="211" y="112.88000000000001" width="4" height="3.6" fill="#ececec"/>
<line x1="211" y1="112.88000000000001" x2="211" y2="116.48" stroke="#2bb34a" stroke-width="0.7"/>
<text x="207.3" y="120.06" font-size="3.6" fill="#333" text-anchor="end" textLength="7.2" lengthAdjust="spacingAndGlyphs">SPI1</text>
<rect x="208" y="116.96000000000001" width="5.5" height="3.6" fill="#050505"/>
<line x1="211.4" y1="116.96000000000001" x2="211.4" y2="120.56" stroke="#2bb34a" stroke-width="0.7"/>
<text x="215.8" y="120.06" font-size="3.6" fill="#8a8a8a">Gg</text>
<text x="206.3" y="124.14" font-size="3.6" fill="#333" text-anchor="end" textLength="10.4" lengthAdjust="spacingAndGlyphs">NFATC1</text>
<rect x="207" y="121.04" width="15.800000000000011" height="3.6" fill="#9a9a9a"/>
<text x="225.7" y="124.14" font-size="3.6" fill="#8a8a8a">G</text>
<text x="207.3" y="128.22" font-size="3.6" fill="#333" text-anchor="end" textLength="8.8" lengthAdjust="spacingAndGlyphs">EP300</text>
<rect x="208" y="125.12" width="9.5" height="3.6" fill="#dadada"/>
<rect x="217.5" y="125.12" width="4.400000000000006" height="3.6" fill="#ededed"/>
<text x="207.3" y="132.3" font-size="3.6" fill="#333" text-anchor="end" textLength="7.2" lengthAdjust="spacingAndGlyphs">TAF1</text>
<rect x="208" y="129.2" width="9" height="3.6" fill="#dedede"/>
<rect x="217" y="129.2" width="4" height="3.6" fill="#efefef"/>
<text x="208.1" y="136.38000000000002" font-size="3.6" fill="#333" text-anchor="end" textLength="7.2" lengthAdjust="spacingAndGlyphs">EBF1</text>
<rect x="208.8" y="133.28" width="10.5" height="3.6" fill="#9a9a9a"/>
<rect x="219.3" y="133.28" width="1.6999999999999886" height="3.6" fill="#dcdcdc"/>
<line x1="214.4" y1="133.28" x2="214.4" y2="136.88000000000002" stroke="#2bb34a" stroke-width="0.7"/>
<text x="222.5" y="136.38000000000002" font-size="3.6" fill="#8a8a8a">GG</text>
<text x="208.1" y="140.46" font-size="3.6" fill="#333" text-anchor="end" textLength="10.4" lengthAdjust="spacingAndGlyphs">POLR2A</text>
<rect x="208.8" y="137.35999999999999" width="13.099999999999994" height="3.6" fill="#a4a4a4"/>
<text x="224.5" y="140.46" font-size="3.6" fill="#8a8a8a">G</text>
<text x="209" y="144.54000000000002" font-size="3.6" fill="#333" text-anchor="end" textLength="10.4" lengthAdjust="spacingAndGlyphs">BCLAF1</text>
<rect x="209.7" y="141.44" width="11.300000000000011" height="3.6" fill="#cfcfcf"/>
<text x="223.6" y="144.54000000000002" font-size="3.6" fill="#8a8a8a">G</text>
<text x="209.8" y="148.62" font-size="3.6" fill="#333" text-anchor="end" textLength="7.2" lengthAdjust="spacingAndGlyphs">BATF</text>
<rect x="210.5" y="145.51999999999998" width="4.5" height="3.6" fill="#bdbdbd"/>
<rect x="215" y="145.51999999999998" width="5" height="3.6" fill="#e8e8e8"/>
<line x1="213" y1="145.51999999999998" x2="213" y2="149.12" stroke="#2bb34a" stroke-width="0.7"/>
<text x="210.7" y="152.70000000000002" font-size="3.6" fill="#333" text-anchor="end" textLength="7.2" lengthAdjust="spacingAndGlyphs">BCL3</text>
<rect x="211.4" y="149.6" width="9.599999999999994" height="3.6" fill="#d4d4d4"/>
<text x="223.6" y="152.70000000000002" font-size="3.6" fill="#8a8a8a">G</text>
<text x="210.7" y="156.78000000000003" font-size="3.6" fill="#333" text-anchor="end" textLength="7.2" lengthAdjust="spacingAndGlyphs">ATF2</text>
<rect x="211.4" y="153.68" width="13.099999999999994" height="3.6" fill="#d6d6d6"/>
<text x="228" y="156.78000000000003" font-size="3.6" fill="#8a8a8a">G</text>
<text x="211.6" y="160.86" font-size="3.6" fill="#333" text-anchor="end" textLength="8.8" lengthAdjust="spacingAndGlyphs">RUNX3</text>
<rect x="212.3" y="157.76" width="10.5" height="3.6" fill="#050505"/>
<line x1="216.6" y1="157.76" x2="216.6" y2="161.36" stroke="#2bb34a" stroke-width="0.7"/>
<text x="225.7" y="160.86" font-size="3.6" fill="#8a8a8a">G</text>
<text x="212.5" y="164.94" font-size="3.6" fill="#333" text-anchor="end" textLength="7.2" lengthAdjust="spacingAndGlyphs">USF1</text>
<rect x="213.2" y="161.83999999999997" width="6.900000000000006" height="3.6" fill="#c8c8c8"/>
<text x="222.8" y="164.94" font-size="3.6" fill="#8a8a8a">G</text>
<text x="212.5" y="169.02" font-size="3.6" fill="#333" text-anchor="end" textLength="5.6" lengthAdjust="spacingAndGlyphs">MAX</text>
<rect x="213.2" y="165.92" width="7.300000000000011" height="3.6" fill="#c4c4c4"/>
<text x="213.7" y="173.10000000000002" font-size="3.6" fill="#333" text-anchor="end" textLength="7.2" lengthAdjust="spacingAndGlyphs">TCF3</text>
<rect x="214.4" y="170.0" width="7.5" height="3.6" fill="#c8c8c8"/>
<line x1="219.3" y1="170.0" x2="219.3" y2="173.60000000000002" stroke="#2bb34a" stroke-width="0.7"/>
<text x="225.7" y="173.10000000000002" font-size="3.6" fill="#8a8a8a">G</text>
<text x="213.7" y="177.18" font-size="3.6" fill="#333" text-anchor="end" textLength="5.6" lengthAdjust="spacingAndGlyphs">MYC</text>
<rect x="214.4" y="174.07999999999998" width="8.400000000000006" height="3.6" fill="#a8a8a8"/>
<text x="225" y="177.18" font-size="3.6" fill="#8a8a8a">+</text>
<text x="214.3" y="181.26000000000002" font-size="3.6" fill="#333" text-anchor="end" textLength="8.8" lengthAdjust="spacingAndGlyphs">TCF12</text>
<rect x="215" y="178.16" width="7" height="3.6" fill="#c4c4c4"/>
<line x1="219.3" y1="178.16" x2="219.3" y2="181.76000000000002" stroke="#2bb34a" stroke-width="0.7"/>
<text x="215.1" y="185.34000000000003" font-size="3.6" fill="#333" text-anchor="end" textLength="7.2" lengthAdjust="spacingAndGlyphs">ELF1</text>
<rect x="215.8" y="182.24" width="4.199999999999989" height="3.6" fill="#d8d8d8"/>
<text x="219.4" y="189.42000000000002" font-size="3.6" fill="#333" text-anchor="end" textLength="7.2" lengthAdjust="spacingAndGlyphs">EBF1</text>
<rect x="220.1" y="186.32" width="4.900000000000006" height="3.6" fill="#333333"/>
<text x="228" y="189.42000000000002" font-size="3.6" fill="#8a8a8a">G</text>
<text x="15.8" y="119.8" font-size="5.4" fill="#222" textLength="30.2" lengthAdjust="spacingAndGlyphs" stroke="#222" stroke-width="0.06">TF ChIP-seq</text>
<text x="15.8" y="139.0" font-size="6.0" fill="#222" textLength="53.5" lengthAdjust="spacingAndGlyphs" stroke="#222" stroke-width="0.06">Histone modifications</text>
<line x1="15.8" y1="139.6" x2="69.3" y2="139.6" stroke="#555" stroke-width="0.5"/>
<text x="15.8" y="146.4" font-size="6.0" fill="#222" textLength="24.4" lengthAdjust="spacingAndGlyphs" stroke="#222" stroke-width="0.06">GM12878</text>
<rect x="86.2" y="142.8" width="4.1" height="3.9" fill="#d96a6a"/>
<text x="15.8" y="153.7" font-size="6.0" fill="#222" textLength="56.5" lengthAdjust="spacingAndGlyphs" stroke="#222" stroke-width="0.06">GM12878 ChromHMM</text>
<line x1="15.8" y1="154.3" x2="72.3" y2="154.3" stroke="#555" stroke-width="0.5"/>
<text x="15.8" y="161.8" font-size="6.0" fill="#222" textLength="45.4" lengthAdjust="spacingAndGlyphs" stroke="#222" stroke-width="0.06">Transcribed region</text>
<rect x="86.2" y="157.6" width="4.1" height="4.1" fill="#1e8c32"/>
<text x="15.8" y="169.3" font-size="6.0" fill="#222" textLength="64" lengthAdjust="spacingAndGlyphs" stroke="#222" stroke-width="0.06">Candidate weak enhancer</text>
<rect x="86.2" y="164.9" width="4.1" height="4.1" fill="#f5e000"/>
<text x="15.8" y="176.2" font-size="6.0" fill="#222" textLength="66.3" lengthAdjust="spacingAndGlyphs" stroke="#222" stroke-width="0.06">Candidate strong enhancer</text>
<rect x="86.2" y="172.2" width="4.1" height="4.1" fill="#eab308"/>
<text x="245.6" y="17.2" font-size="12" font-weight="bold" fill="#000">B</text>
<text x="294.2" y="72" font-size="5.4" fill="#333" text-anchor="end" textLength="11" lengthAdjust="spacingAndGlyphs" stroke="#333" stroke-width="0.06">Hi-C</text>
<g clip-path="url(#hicClip)">
<rect x="297" y="37" width="197" height="83" fill="url(#hicV)"/>
<polygon points="339,37 421,119.5 297,119.5 297,37" fill="url(#hicEdge)" mask="url(#mEdge)"/>
<g clip-path="url(#hicClipM)">
<rect x="350" y="37" width="144" height="80" fill="url(#hicM)"/>
<polygon points="366,45 398,37 451.5,88.5 433.5,106.5" fill="#3a8fb5" opacity="0.33" filter="url(#blur4)"/>
<ellipse cx="406" cy="78" rx="9" ry="8" fill="#3a8fb5" opacity="0.3" filter="url(#blur2)"/>
<ellipse cx="420" cy="64" rx="7" ry="6" fill="#3a8fb5" opacity="0.2" filter="url(#blur2)"/>
<rect x="350" y="37" width="144" height="80" fill="url(#hicMx)"/>
</g>
<rect x="297" y="37" width="197" height="80.5" fill="url(#diam)"/>
<rect x="297" y="37" width="197" height="80.5" filter="url(#noise)" opacity="0.22"/>
</g>
<rect x="369.5" y="69.0" width="1.6" height="1.5" fill="#3383ac"/>
<rect x="372.3" y="71.9" width="1.6" height="1.5" fill="#17668f"/>
<rect x="379.3" y="78.4" width="1.6" height="1.5" fill="#17668f"/>
<rect x="381.7" y="80.8" width="1.6" height="1.5" fill="#17668f"/>
<rect x="384.6" y="83.7" width="1.6" height="1.5" fill="#3383ac"/>
<rect x="386.4" y="85.5" width="1.6" height="1.5" fill="#17668f"/>
<rect x="389.2" y="88.3" width="1.6" height="1.5" fill="#3383ac"/>
<rect x="391.4" y="91.2" width="1.6" height="1.5" fill="#17668f"/>
<rect x="393.9" y="93.7" width="1.6" height="1.5" fill="#3383ac"/>
<rect x="399.5" y="98.7" width="1.6" height="1.5" fill="#17668f"/>
<rect x="400.8" y="100.4" width="1.6" height="1.5" fill="#17668f"/>
<rect x="403.6" y="102.9" width="1.6" height="1.5" fill="#3383ac"/>
<rect x="405.7" y="105.2" width="1.6" height="1.5" fill="#3383ac"/>
<rect x="408.7" y="108.5" width="1.6" height="1.5" fill="#17668f"/>
<rect x="411.6" y="111.2" width="1.6" height="1.5" fill="#17668f"/>
<rect x="412.9" y="112.9" width="1.6" height="1.5" fill="#17668f"/>
<rect x="419.0" y="118.5" width="1.6" height="1.5" fill="#17668f"/>
<rect x="454.5" y="86.0" width="1.5" height="1.5" fill="#3383ac"/>
<rect x="451.3" y="89.3" width="1.5" height="1.5" fill="#17668f"/>
<rect x="448.8" y="91.8" width="1.5" height="1.5" fill="#17668f"/>
<rect x="445.1" y="95.2" width="1.5" height="1.5" fill="#17668f"/>
<rect x="442.8" y="97.5" width="1.5" height="1.5" fill="#3383ac"/>
<rect x="439.3" y="100.9" width="1.5" height="1.5" fill="#3383ac"/>
<rect x="436.5" y="103.7" width="1.5" height="1.5" fill="#17668f"/>
<rect x="433.4" y="107.0" width="1.5" height="1.5" fill="#17668f"/>
<rect x="461.5" y="70.5" width="1.3" height="1.3" fill="#3f88b0"/>
<rect x="476.5" y="62.5" width="1.1" height="1.1" fill="#5a9cc0"/>
<rect x="488" y="51.5" width="1.1" height="1.1" fill="#6aa6c6"/>
<text x="294" y="125.8" font-size="5.3" fill="#333" text-anchor="end" textLength="26" lengthAdjust="spacingAndGlyphs" stroke="#333" stroke-width="0.06">Scale (MB)</text>
<text x="296.8" y="125.8" font-size="5.6" fill="#222" textLength="10.6" lengthAdjust="spacingAndGlyphs" stroke="#222" stroke-width="0.06">50.1</text>
<text x="339.7" y="125.8" font-size="5.6" fill="#222" textLength="10.6" lengthAdjust="spacingAndGlyphs" stroke="#222" stroke-width="0.06">50.2</text>
<text x="383" y="125.8" font-size="5.6" fill="#222" textLength="10.6" lengthAdjust="spacingAndGlyphs" stroke="#222" stroke-width="0.06">50.3</text>
<text x="426.7" y="125.8" font-size="5.6" fill="#222" textLength="10.6" lengthAdjust="spacingAndGlyphs" stroke="#222" stroke-width="0.06">50.4</text>
<text x="469.8" y="125.8" font-size="5.6" fill="#222" textLength="10.6" lengthAdjust="spacingAndGlyphs" stroke="#222" stroke-width="0.06">50.5</text>
<text x="293.3" y="131.2" font-size="5.3" fill="#333" text-anchor="end" textLength="38.4" lengthAdjust="spacingAndGlyphs" stroke="#333" stroke-width="0.06">Contact domain</text>
<text x="293.3" y="136.3" font-size="5.3" fill="#333" text-anchor="end" textLength="40" lengthAdjust="spacingAndGlyphs" stroke="#333" stroke-width="0.06">Super-enhancers</text>
<text x="293.3" y="141.6" font-size="5.3" fill="#333" text-anchor="end" textLength="33.3" lengthAdjust="spacingAndGlyphs" stroke="#333" stroke-width="0.06">RefSeq genes</text>
<text x="293.3" y="152.1" font-size="5.3" fill="#333" text-anchor="end" textLength="13.3" lengthAdjust="spacingAndGlyphs" stroke="#333" stroke-width="0.06">CTCF</text>
<text x="293.3" y="165.2" font-size="5.3" fill="#333" text-anchor="end" textLength="38.4" lengthAdjust="spacingAndGlyphs" stroke="#333" stroke-width="0.06">CTCF ChIA-PET</text>
<rect x="316.4" y="127.5" width="168.4" height="3.0" fill="#7a7a7a"/>
<text x="399" y="130.1" font-size="2.6" fill="#ddd" textLength="11" lengthAdjust="spacingAndGlyphs" stroke="#ddd" stroke-width="0.06">Contact</text>
<rect x="408.5" y="131.5" width="12.2" height="2.8" fill="#f5a034"/>
<rect x="439.7" y="131.5" width="30.5" height="2.8" fill="#f5a034"/>
<line x1="297.4" y1="136.3" x2="317.5" y2="136.3" stroke="#2a2acb" stroke-width="0.5"/>
<path d="M298.9,135.60000000000002 L299.7,136.3 L298.9,137.0" fill="none" stroke="#2a2acb" stroke-width="0.35"/>
<path d="M301.1,135.60000000000002 L301.9,136.3 L301.1,137.0" fill="none" stroke="#2a2acb" stroke-width="0.35"/>
<path d="M303.3,135.60000000000002 L304.1,136.3 L303.3,137.0" fill="none" stroke="#2a2acb" stroke-width="0.35"/>
<path d="M305.5,135.60000000000002 L306.3,136.3 L305.5,137.0" fill="none" stroke="#2a2acb" stroke-width="0.35"/>
<path d="M307.7,135.60000000000002 L308.5,136.3 L307.7,137.0" fill="none" stroke="#2a2acb" stroke-width="0.35"/>
<path d="M309.9,135.60000000000002 L310.7,136.3 L309.9,137.0" fill="none" stroke="#2a2acb" stroke-width="0.35"/>
<path d="M312.1,135.60000000000002 L312.9,136.3 L312.1,137.0" fill="none" stroke="#2a2acb" stroke-width="0.35"/>
<path d="M314.3,135.60000000000002 L315.1,136.3 L314.3,137.0" fill="none" stroke="#2a2acb" stroke-width="0.35"/>
<path d="M316.5,135.60000000000002 L317.3,136.3 L316.5,137.0" fill="none" stroke="#2a2acb" stroke-width="0.35"/>
<rect x="313.5" y="135.5" width="1.2" height="1.6" fill="#2a2acb"/>
<rect x="315.5" y="135.5" width="1.2" height="1.6" fill="#2a2acb"/>
<text x="319.6" y="137.9" font-size="4.6" fill="#2a2acb" textLength="10.4" lengthAdjust="spacingAndGlyphs" stroke="#2a2acb" stroke-width="0.06">ZPBP</text>
<text x="298" y="142.0" font-size="4.4" fill="#2a2acb" textLength="19.5" lengthAdjust="spacingAndGlyphs" stroke="#2a2acb" stroke-width="0.06">C7ORF72</text>
<line x1="318.6" y1="140.4" x2="347" y2="140.4" stroke="#2a2acb" stroke-width="0.5"/>
<path d="M320.1,139.70000000000002 L320.9,140.4 L320.1,141.1" fill="none" stroke="#2a2acb" stroke-width="0.35"/>
<path d="M322.3,139.70000000000002 L323.1,140.4 L322.3,141.1" fill="none" stroke="#2a2acb" stroke-width="0.35"/>
<path d="M324.5,139.70000000000002 L325.3,140.4 L324.5,141.1" fill="none" stroke="#2a2acb" stroke-width="0.35"/>
<path d="M326.7,139.70000000000002 L327.5,140.4 L326.7,141.1" fill="none" stroke="#2a2acb" stroke-width="0.35"/>
<path d="M328.9,139.70000000000002 L329.7,140.4 L328.9,141.1" fill="none" stroke="#2a2acb" stroke-width="0.35"/>
<path d="M331.1,139.70000000000002 L331.9,140.4 L331.1,141.1" fill="none" stroke="#2a2acb" stroke-width="0.35"/>
<path d="M333.3,139.70000000000002 L334.1,140.4 L333.3,141.1" fill="none" stroke="#2a2acb" stroke-width="0.35"/>
<path d="M335.5,139.70000000000002 L336.3,140.4 L335.5,141.1" fill="none" stroke="#2a2acb" stroke-width="0.35"/>
<path d="M337.7,139.70000000000002 L338.5,140.4 L337.7,141.1" fill="none" stroke="#2a2acb" stroke-width="0.35"/>
<path d="M339.9,139.70000000000002 L340.7,140.4 L339.9,141.1" fill="none" stroke="#2a2acb" stroke-width="0.35"/>
<path d="M342.1,139.70000000000002 L342.9,140.4 L342.1,141.1" fill="none" stroke="#2a2acb" stroke-width="0.35"/>
<path d="M344.3,139.70000000000002 L345.1,140.4 L344.3,141.1" fill="none" stroke="#2a2acb" stroke-width="0.35"/>
<rect x="331" y="139.6" width="1.2" height="1.6" fill="#2a2acb"/>
<rect x="334" y="139.6" width="1.2" height="1.6" fill="#2a2acb"/>
<rect x="336.5" y="139.6" width="1.2" height="1.6" fill="#2a2acb"/>
<rect x="339" y="139.6" width="1.2" height="1.6" fill="#2a2acb"/>
<rect x="343.5" y="139.6" width="1.2" height="1.6" fill="#2a2acb"/>
<text x="397.3" y="138.3" font-size="4.6" fill="#3b3bd0" textLength="10.6" lengthAdjust="spacingAndGlyphs" stroke="#3b3bd0" stroke-width="0.06">IKZF1</text>
<line x1="408" y1="136.7" x2="465" y2="136.7" stroke="#2a2acb" stroke-width="0.5"/>
<path d="M409.5,136.0 L410.3,136.7 L409.5,137.39999999999998" fill="none" stroke="#2a2acb" stroke-width="0.35"/>
<path d="M411.7,136.0 L412.5,136.7 L411.7,137.39999999999998" fill="none" stroke="#2a2acb" stroke-width="0.35"/>
<path d="M413.9,136.0 L414.7,136.7 L413.9,137.39999999999998" fill="none" stroke="#2a2acb" stroke-width="0.35"/>
<path d="M416.1,136.0 L416.9,136.7 L416.1,137.39999999999998" fill="none" stroke="#2a2acb" stroke-width="0.35"/>
<path d="M418.3,136.0 L419.1,136.7 L418.3,137.39999999999998" fill="none" stroke="#2a2acb" stroke-width="0.35"/>
<path d="M420.5,136.0 L421.3,136.7 L420.5,137.39999999999998" fill="none" stroke="#2a2acb" stroke-width="0.35"/>
<path d="M422.7,136.0 L423.5,136.7 L422.7,137.39999999999998" fill="none" stroke="#2a2acb" stroke-width="0.35"/>
<path d="M424.9,136.0 L425.7,136.7 L424.9,137.39999999999998" fill="none" stroke="#2a2acb" stroke-width="0.35"/>
<path d="M427.1,136.0 L427.9,136.7 L427.1,137.39999999999998" fill="none" stroke="#2a2acb" stroke-width="0.35"/>
<path d="M429.3,136.0 L430.1,136.7 L429.3,137.39999999999998" fill="none" stroke="#2a2acb" stroke-width="0.35"/>
<path d="M431.5,136.0 L432.3,136.7 L431.5,137.39999999999998" fill="none" stroke="#2a2acb" stroke-width="0.35"/>
<path d="M433.7,136.0 L434.5,136.7 L433.7,137.39999999999998" fill="none" stroke="#2a2acb" stroke-width="0.35"/>
<path d="M435.9,136.0 L436.7,136.7 L435.9,137.39999999999998" fill="none" stroke="#2a2acb" stroke-width="0.35"/>
<path d="M438.1,136.0 L438.9,136.7 L438.1,137.39999999999998" fill="none" stroke="#2a2acb" stroke-width="0.35"/>
<path d="M440.3,136.0 L441.1,136.7 L440.3,137.39999999999998" fill="none" stroke="#2a2acb" stroke-width="0.35"/>
<path d="M442.5,136.0 L443.3,136.7 L442.5,137.39999999999998" fill="none" stroke="#2a2acb" stroke-width="0.35"/>
<path d="M444.7,136.0 L445.5,136.7 L444.7,137.39999999999998" fill="none" stroke="#2a2acb" stroke-width="0.35"/>
<path d="M446.9,136.0 L447.7,136.7 L446.9,137.39999999999998" fill="none" stroke="#2a2acb" stroke-width="0.35"/>
<path d="M449.1,136.0 L449.9,136.7 L449.1,137.39999999999998" fill="none" stroke="#2a2acb" stroke-width="0.35"/>
<path d="M451.3,136.0 L452.1,136.7 L451.3,137.39999999999998" fill="none" stroke="#2a2acb" stroke-width="0.35"/>
<path d="M453.5,136.0 L454.3,136.7 L453.5,137.39999999999998" fill="none" stroke="#2a2acb" stroke-width="0.35"/>
<path d="M455.7,136.0 L456.5,136.7 L455.7,137.39999999999998" fill="none" stroke="#2a2acb" stroke-width="0.35"/>
<path d="M457.9,136.0 L458.7,136.7 L457.9,137.39999999999998" fill="none" stroke="#2a2acb" stroke-width="0.35"/>
<path d="M460.1,136.0 L460.9,136.7 L460.1,137.39999999999998" fill="none" stroke="#2a2acb" stroke-width="0.35"/>
<path d="M462.3,136.0 L463.1,136.7 L462.3,137.39999999999998" fill="none" stroke="#2a2acb" stroke-width="0.35"/>
<rect x="418" y="135.9" width="1.1" height="1.6" fill="#2a2acb"/>
<rect x="427" y="135.9" width="1.1" height="1.6" fill="#2a2acb"/>
<rect x="451" y="135.9" width="1.1" height="1.6" fill="#2a2acb"/>
<rect x="455" y="135.9" width="1.1" height="1.6" fill="#2a2acb"/>
<rect x="458" y="135.9" width="1.1" height="1.6" fill="#2a2acb"/>
<rect x="462" y="135.9" width="1.1" height="1.6" fill="#2a2acb"/>
<path d="M477,135 L481,136.7 L477,138.4 Z" fill="#2a2acb"/>
<text x="482.3" y="138.4" font-size="4.6" fill="#2a2acb" textLength="18.5" lengthAdjust="spacingAndGlyphs" stroke="#2a2acb" stroke-width="0.06">FIGNL1</text>
<text x="477" y="142.3" font-size="4.4" fill="#2a2acb" textLength="7" lengthAdjust="spacingAndGlyphs" stroke="#2a2acb" stroke-width="0.06">DDC</text>
<line x1="484.5" y1="141" x2="490" y2="141" stroke="#2a2acb" stroke-width="0.6"/>
<path d="M485.8,140.3 L485,141 L485.8,141.7" fill="none" stroke="#2a2acb" stroke-width="0.4"/>
<path d="M487.8,140.3 L487,141 L487.8,141.7" fill="none" stroke="#2a2acb" stroke-width="0.4"/>
<path d="M489.8,140.3 L489,141 L489.8,141.7" fill="none" stroke="#2a2acb" stroke-width="0.4"/>
<rect x="297.9" y="153.2" width="195.5" height="19.5" fill="#fafbfe"/>
<line x1="297.3" y1="152.1" x2="420.5" y2="152.1" stroke="#2323e6" stroke-width="1.0"/>
<line x1="438.3" y1="152.1" x2="494" y2="152.1" stroke="#2323e6" stroke-width="1.0"/>
<rect x="304.4" y="150.89999999999998" width="1.2" height="1.3" fill="#2323e6"/>
<rect x="306.4" y="151.6" width="1.2" height="0.6" fill="#2323e6"/>
<rect x="316.59999999999997" y="148.2" width="1.2" height="4" fill="#2323e6"/>
<rect x="320.4" y="151.39999999999998" width="1.2" height="0.8" fill="#2323e6"/>
<rect x="328.7" y="148.7" width="1.2" height="3.5" fill="#2323e6"/>
<rect x="331.4" y="151.39999999999998" width="1.2" height="0.8" fill="#2323e6"/>
<rect x="337.79999999999995" y="149.2" width="1.2" height="3" fill="#2323e6"/>
<rect x="340.4" y="151.39999999999998" width="1.2" height="0.8" fill="#2323e6"/>
<rect x="348.9" y="151.0" width="1.2" height="1.2" fill="#2323e6"/>
<rect x="351.4" y="151.6" width="1.2" height="0.6" fill="#2323e6"/>
<rect x="359.4" y="151.39999999999998" width="1.2" height="0.8" fill="#2323e6"/>
<rect x="365.09999999999997" y="147.7" width="1.2" height="4.5" fill="#2323e6"/>
<rect x="368.09999999999997" y="150.39999999999998" width="1.2" height="1.8" fill="#2323e6"/>
<rect x="371.4" y="151.39999999999998" width="1.2" height="0.8" fill="#2323e6"/>
<rect x="376.2" y="149.39999999999998" width="1.2" height="2.8" fill="#2323e6"/>
<rect x="380.4" y="151.6" width="1.2" height="0.6" fill="#2323e6"/>
<rect x="384.4" y="151.2" width="1.2" height="1" fill="#2323e6"/>
<rect x="393.4" y="151.2" width="1.2" height="1" fill="#2323e6"/>
<rect x="396.4" y="151.39999999999998" width="1.2" height="0.8" fill="#2323e6"/>
<rect x="400.4" y="151.6" width="1.2" height="0.6" fill="#2323e6"/>
<rect x="406.4" y="151.0" width="1.2" height="1.2" fill="#2323e6"/>
<rect x="409.4" y="151.2" width="1.2" height="1" fill="#2323e6"/>
<rect x="412.4" y="151.5" width="1.2" height="0.7" fill="#2323e6"/>
<rect x="415.4" y="151.2" width="1.2" height="1.0" fill="#2323e6"/>
<rect x="440.4" y="151.6" width="1.2" height="0.6" fill="#2323e6"/>
<rect x="448.4" y="148.0" width="1.2" height="4.2" fill="#2323e6"/>
<rect x="451.4" y="151.39999999999998" width="1.2" height="0.8" fill="#2323e6"/>
<rect x="456.4" y="151.6" width="1.2" height="0.6" fill="#2323e6"/>
<rect x="463.4" y="151.0" width="1.2" height="1.2" fill="#2323e6"/>
<rect x="470.2" y="143.0" width="1.2" height="9.2" fill="#2323e6"/>
<rect x="473.4" y="150.7" width="1.2" height="1.5" fill="#2323e6"/>
<rect x="477.4" y="151.39999999999998" width="1.2" height="0.8" fill="#2323e6"/>
<rect x="483.4" y="151.5" width="1.2" height="0.7" fill="#2323e6"/>
<rect x="487.4" y="151.6" width="1.2" height="0.6" fill="#2323e6"/>
<rect x="491.4" y="148.2" width="1.2" height="4.0" fill="#2323e6"/>
<rect x="460" y="119.5" width="7.6" height="33.7" fill="none" stroke="#111" stroke-width="0.9"/>
<path d="M366.7,153.3 Q407.8,183.5 448.9,153.3" fill="none" stroke="#8c9ed6" stroke-width="0.6"/>
<path d="M368,153.3 Q419,191.5 470,153.3" fill="none" stroke="#8c9ed6" stroke-width="0.6"/>
<text x="6.9" y="216.2" font-size="12" font-weight="bold" fill="#000" textLength="9.5" lengthAdjust="spacingAndGlyphs">C</text>
<line x1="38.2" y1="222.8" x2="38.2" y2="302.8" stroke="#111" stroke-width="1.4"/>
<line x1="37.5" y1="302.1" x2="155" y2="302.1" stroke="#111" stroke-width="1.3"/>
<line x1="35.2" y1="302.1" x2="37.7" y2="302.1" stroke="#111" stroke-width="0.8"/>
<text x="32.6" y="304.45000000000005" font-size="6.6" fill="#222" text-anchor="end" textLength="2.8" lengthAdjust="spacingAndGlyphs" stroke="#222" stroke-width="0.06">0</text>
<line x1="35.2" y1="286.65000000000003" x2="37.7" y2="286.65000000000003" stroke="#111" stroke-width="0.8"/>
<text x="32.6" y="289.00000000000006" font-size="6.6" fill="#222" text-anchor="end" textLength="2.8" lengthAdjust="spacingAndGlyphs" stroke="#222" stroke-width="0.06">1</text>
<line x1="35.2" y1="271.20000000000005" x2="37.7" y2="271.20000000000005" stroke="#111" stroke-width="0.8"/>
<text x="32.6" y="273.55000000000007" font-size="6.6" fill="#222" text-anchor="end" textLength="2.8" lengthAdjust="spacingAndGlyphs" stroke="#222" stroke-width="0.06">2</text>
<line x1="35.2" y1="255.75000000000003" x2="37.7" y2="255.75000000000003" stroke="#111" stroke-width="0.8"/>
<text x="32.6" y="258.1" font-size="6.6" fill="#222" text-anchor="end" textLength="2.8" lengthAdjust="spacingAndGlyphs" stroke="#222" stroke-width="0.06">3</text>
<line x1="35.2" y1="240.3" x2="37.7" y2="240.3" stroke="#111" stroke-width="0.8"/>
<text x="32.6" y="242.65" font-size="6.6" fill="#222" text-anchor="end" textLength="2.8" lengthAdjust="spacingAndGlyphs" stroke="#222" stroke-width="0.06">4</text>
<line x1="35.2" y1="224.85000000000002" x2="37.7" y2="224.85000000000002" stroke="#111" stroke-width="0.8"/>
<text x="32.6" y="227.20000000000002" font-size="6.6" fill="#222" text-anchor="end" textLength="2.8" lengthAdjust="spacingAndGlyphs" stroke="#222" stroke-width="0.06">5</text>
<text transform="translate(22.8,261.1) rotate(-90)" font-size="7.9" fill="#222" stroke="#222" stroke-width="0.12" text-anchor="middle" textLength="79.5" lengthAdjust="spacingAndGlyphs">Relative luciferase activity</text>
<rect x="45.2" y="286.6" width="25.7" height="15.5" fill="#b3002b"/>
<rect x="84.3" y="253.3" width="25.6" height="48.8" fill="#2c4b82" stroke="#1d3566" stroke-width="0.6"/>
<rect x="123" y="271.5" width="25.3" height="30.6" fill="#6aab3c" stroke="#4f8c2a" stroke-width="0.6"/>
<line x1="96.7" y1="253.3" x2="96.7" y2="249.4" stroke="#222" stroke-width="1.15"/>
<line x1="90.2" y1="249.4" x2="103.1" y2="249.4" stroke="#222" stroke-width="1.1"/>
<line x1="135.5" y1="271.5" x2="135.5" y2="268.3" stroke="#222" stroke-width="1.15"/>
<line x1="129.2" y1="268.3" x2="141.9" y2="268.3" stroke="#222" stroke-width="1.1"/>
<line x1="58" y1="302.1" x2="58" y2="304.6" stroke="#111" stroke-width="0.8"/>
<line x1="97.1" y1="302.1" x2="97.1" y2="304.6" stroke="#111" stroke-width="0.8"/>
<line x1="135.6" y1="302.1" x2="135.6" y2="304.6" stroke="#111" stroke-width="0.8"/>
<text x="58.1" y="313.6" font-size="6.3" fill="#222" text-anchor="middle" textLength="18.0" lengthAdjust="spacingAndGlyphs" stroke="#222" stroke-width="0.06">Empty</text>
<text x="97.0" y="313.6" font-size="6.3" fill="#222" text-anchor="middle" textLength="24.7" lengthAdjust="spacingAndGlyphs" stroke="#222" stroke-width="0.06">Non-risk</text>
<text x="135.4" y="313.6" font-size="6.3" fill="#222" text-anchor="middle" textLength="11.9" lengthAdjust="spacingAndGlyphs" stroke="#222" stroke-width="0.06">Risk</text>
<path d="M96.8,235 L96.8,231.4 L135.4,231.4 L135.4,235" fill="none" stroke="#222" stroke-width="1.0"/>
<path d="M114.94999999999999,227.60 V229.60 M114.08,228.10 L115.82,229.10 M114.08,229.10 L115.82,228.10" stroke="#222" stroke-width="0.55" fill="none"/>
<path d="M117.24999999999999,227.60 V229.60 M116.38,228.10 L118.12,229.10 M116.38,229.10 L118.12,228.10" stroke="#222" stroke-width="0.55" fill="none"/>
<text x="170.6" y="216.2" font-size="12" font-weight="bold" fill="#000" textLength="10.2" lengthAdjust="spacingAndGlyphs">D</text>
<line x1="213.2" y1="225.5" x2="213.2" y2="302.6" stroke="#111" stroke-width="1.4"/>
<line x1="212.5" y1="302.0" x2="329" y2="302.0" stroke="#111" stroke-width="1.3"/>
<line x1="210.4" y1="301.7" x2="213" y2="301.7" stroke="#111" stroke-width="0.8"/>
<text x="206.8" y="304.05" font-size="6.6" fill="#222" text-anchor="end" textLength="2.9" lengthAdjust="spacingAndGlyphs" stroke="#222" stroke-width="0.06">0</text>
<line x1="210.4" y1="275.0" x2="213" y2="275.0" stroke="#111" stroke-width="0.8"/>
<text x="206.8" y="277.35" font-size="6.6" fill="#222" text-anchor="end" textLength="2.9" lengthAdjust="spacingAndGlyphs" stroke="#222" stroke-width="0.06">1</text>
<line x1="210.4" y1="248.29999999999998" x2="213" y2="248.29999999999998" stroke="#111" stroke-width="0.8"/>
<text x="206.8" y="250.64999999999998" font-size="6.6" fill="#222" text-anchor="end" textLength="2.9" lengthAdjust="spacingAndGlyphs" stroke="#222" stroke-width="0.06">2</text>
<text transform="translate(186.5,261.9) rotate(-90)" font-size="7.6" fill="#222" stroke="#222" stroke-width="0.12" text-anchor="middle" textLength="64.5" lengthAdjust="spacingAndGlyphs">Ratio of risk:non-risk</text>
<text transform="translate(195.4,264.2) rotate(-90)" font-size="7.6" fill="#222" stroke="#222" stroke-width="0.12" text-anchor="middle" textLength="58.5" lengthAdjust="spacingAndGlyphs">allele DNA binding</text>
<rect x="219.3" y="278.8" width="11.4" height="22.599999999999966" fill="#b3002b"/>
<line x1="225" y1="278.8" x2="225" y2="273.9" stroke="#222" stroke-width="1.15"/>
<line x1="222" y1="273.9" x2="228" y2="273.9" stroke="#222" stroke-width="1.1"/>
<line x1="225" y1="301.9" x2="225" y2="304.4" stroke="#111" stroke-width="0.8"/>
<text transform="translate(228.4,311.8) rotate(-45)" font-size="6.9" fill="#222" stroke="#222" stroke-width="0.12" text-anchor="end" textLength="34.5" lengthAdjust="spacingAndGlyphs">rs62445866</text>
<rect x="242.20000000000002" y="285.4" width="11.4" height="16.0" fill="#b3002b"/>
<line x1="247.9" y1="285.4" x2="247.9" y2="280.6" stroke="#222" stroke-width="1.15"/>
<line x1="244.9" y1="280.6" x2="250.9" y2="280.6" stroke="#222" stroke-width="1.1"/>
<line x1="247.9" y1="301.9" x2="247.9" y2="304.4" stroke="#111" stroke-width="0.8"/>
<path d="M246.75,276.60 V278.60 M245.88,277.10 L247.62,278.10 M245.88,278.10 L247.62,277.10" stroke="#222" stroke-width="0.55" fill="none"/>
<path d="M249.05,276.60 V278.60 M248.18,277.10 L249.92,278.10 M248.18,278.10 L249.92,277.10" stroke="#222" stroke-width="0.55" fill="none"/>
<text transform="translate(251.3,311.8) rotate(-45)" font-size="6.9" fill="#222" stroke="#222" stroke-width="0.12" text-anchor="end" textLength="31.1" lengthAdjust="spacingAndGlyphs">rs6964969</text>
<rect x="265.0" y="292.2" width="11.4" height="9.199999999999989" fill="#b3002b"/>
<line x1="270.7" y1="292.2" x2="270.7" y2="285.8" stroke="#222" stroke-width="1.15"/>
<line x1="267.7" y1="285.8" x2="273.7" y2="285.8" stroke="#222" stroke-width="1.1"/>
<line x1="270.7" y1="301.9" x2="270.7" y2="304.4" stroke="#111" stroke-width="0.8"/>
<path d="M268.4,281.80 V283.80 M267.53,282.30 L269.27,283.30 M267.53,283.30 L269.27,282.30" stroke="#222" stroke-width="0.55" fill="none"/>
<path d="M270.7,281.80 V283.80 M269.83,282.30 L271.57,283.30 M269.83,283.30 L271.57,282.30" stroke="#222" stroke-width="0.55" fill="none"/>
<path d="M273.0,281.80 V283.80 M272.13,282.30 L273.87,283.30 M272.13,283.30 L273.87,282.30" stroke="#222" stroke-width="0.55" fill="none"/>
<text transform="translate(274.09999999999997,311.8) rotate(-45)" font-size="6.9" fill="#222" stroke="#222" stroke-width="0.12" text-anchor="end" textLength="31.1" lengthAdjust="spacingAndGlyphs">rs6944602</text>
<rect x="287.8" y="280.9" width="11.4" height="20.5" fill="#b3002b"/>
<line x1="293.5" y1="280.9" x2="293.5" y2="268.2" stroke="#222" stroke-width="1.15"/>
<line x1="290.5" y1="268.2" x2="296.5" y2="268.2" stroke="#222" stroke-width="1.1"/>
<line x1="293.5" y1="301.9" x2="293.5" y2="304.4" stroke="#111" stroke-width="0.8"/>
<text transform="translate(296.9,311.8) rotate(-45)" font-size="6.9" fill="#222" stroke="#222" stroke-width="0.12" text-anchor="end" textLength="34.5" lengthAdjust="spacingAndGlyphs">rs10264390</text>
<rect x="311.2" y="251" width="11.4" height="50.39999999999998" fill="#b3002b"/>
<line x1="316.9" y1="251" x2="316.9" y2="229.7" stroke="#222" stroke-width="1.15"/>
<line x1="313.9" y1="229.7" x2="319.9" y2="229.7" stroke="#222" stroke-width="1.1"/>
<line x1="316.9" y1="301.9" x2="316.9" y2="304.4" stroke="#111" stroke-width="0.8"/>
<path d="M316.9,225.70 V227.70 M316.03,226.20 L317.77,227.20 M316.03,227.20 L317.77,226.20" stroke="#222" stroke-width="0.55" fill="none"/>
<text transform="translate(320.29999999999995,311.8) rotate(-45)" font-size="6.9" fill="#222" stroke="#222" stroke-width="0.12" text-anchor="end" textLength="34.5" lengthAdjust="spacingAndGlyphs">rs17133807</text>
<text x="344.1" y="216.2" font-size="12" font-weight="bold" fill="#000">E</text>
<line x1="377.4" y1="225.5" x2="377.4" y2="302.8" stroke="#111" stroke-width="1.4"/>
<line x1="376.7" y1="302.1" x2="510.5" y2="302.1" stroke="#111" stroke-width="1.3"/>
<line x1="374.8" y1="301.7" x2="377.3" y2="301.7" stroke="#111" stroke-width="0.8"/>
<text x="371.9" y="304.0" font-size="6.4" fill="#222" text-anchor="end" textLength="2.9" lengthAdjust="spacingAndGlyphs" stroke="#222" stroke-width="0.06">0</text>
<line x1="374.8" y1="280.7" x2="377.3" y2="280.7" stroke="#111" stroke-width="0.8"/>
<text x="371.9" y="283.0" font-size="6.4" fill="#222" text-anchor="end" textLength="2.9" lengthAdjust="spacingAndGlyphs" stroke="#222" stroke-width="0.06">2</text>
<line x1="374.8" y1="259.7" x2="377.3" y2="259.7" stroke="#111" stroke-width="0.8"/>
<text x="371.9" y="262.0" font-size="6.4" fill="#222" text-anchor="end" textLength="2.9" lengthAdjust="spacingAndGlyphs" stroke="#222" stroke-width="0.06">4</text>
<line x1="374.8" y1="238.7" x2="377.3" y2="238.7" stroke="#111" stroke-width="0.8"/>
<text x="371.9" y="241.0" font-size="6.4" fill="#222" text-anchor="end" textLength="2.9" lengthAdjust="spacingAndGlyphs" stroke="#222" stroke-width="0.06">6</text>
<line x1="377.5" y1="301.7" x2="377.5" y2="304.3" stroke="#111" stroke-width="0.8"/>
<text x="377.5" y="314.0" font-size="6.8" fill="#222" text-anchor="middle" textLength="3.1" lengthAdjust="spacingAndGlyphs" stroke="#222" stroke-width="0.06">0</text>
<line x1="403.96" y1="301.7" x2="403.96" y2="304.3" stroke="#111" stroke-width="0.8"/>
<text x="403.96" y="314.0" font-size="6.8" fill="#222" text-anchor="middle" textLength="3.1" lengthAdjust="spacingAndGlyphs" stroke="#222" stroke-width="0.06">1</text>
<line x1="430.42" y1="301.7" x2="430.42" y2="304.3" stroke="#111" stroke-width="0.8"/>
<text x="430.42" y="314.0" font-size="6.8" fill="#222" text-anchor="middle" textLength="3.1" lengthAdjust="spacingAndGlyphs" stroke="#222" stroke-width="0.06">2</text>
<line x1="456.88" y1="301.7" x2="456.88" y2="304.3" stroke="#111" stroke-width="0.8"/>
<text x="456.88" y="314.0" font-size="6.8" fill="#222" text-anchor="middle" textLength="3.1" lengthAdjust="spacingAndGlyphs" stroke="#222" stroke-width="0.06">3</text>
<line x1="483.34000000000003" y1="301.7" x2="483.34000000000003" y2="304.3" stroke="#111" stroke-width="0.8"/>
<text x="483.34000000000003" y="314.0" font-size="6.8" fill="#222" text-anchor="middle" textLength="3.1" lengthAdjust="spacingAndGlyphs" stroke="#222" stroke-width="0.06">4</text>
<line x1="509.8" y1="301.7" x2="509.8" y2="304.3" stroke="#111" stroke-width="0.8"/>
<text x="509.8" y="314.0" font-size="6.8" fill="#222" text-anchor="middle" textLength="3.1" lengthAdjust="spacingAndGlyphs" stroke="#222" stroke-width="0.06">5</text>
<text x="445.3" y="324.9" font-size="7.5" fill="#222" text-anchor="middle" textLength="11.1" lengthAdjust="spacingAndGlyphs" stroke="#222" stroke-width="0.06">Day</text>
<text transform="translate(362.3,263.9) rotate(-90)" font-size="7.1" fill="#222" stroke="#222" stroke-width="0.12" text-anchor="middle">Cells (x10<tspan font-size="4.4" dy="-2.2">5</tspan><tspan dy="2.2">/mL)</tspan></text>
<line x1="377.5" y1="289.4" x2="510" y2="227.6" stroke="#c6283e" stroke-width="0.9"/>
<line x1="377.5" y1="293.9" x2="510" y2="246.8" stroke="#2e4a8e" stroke-width="0.9"/>
<line x1="377.5" y1="292.6" x2="510" y2="248.4" stroke="#c6283e" stroke-width="0.9" stroke-dasharray="3,1.6"/>
<line x1="377.5" y1="293.5" x2="510" y2="262.7" stroke="#2e4a8e" stroke-width="0.9" stroke-dasharray="3,1.6"/>
<line x1="377.5" y1="291.72499999999997" x2="377.5" y2="293.825" stroke="#2e4a8e" stroke-width="0.5" stroke-dasharray="0.8,0.6"/>
<line x1="376.6" y1="291.72499999999997" x2="378.4" y2="291.72499999999997" stroke="#2e4a8e" stroke-width="0.5"/>
<line x1="376.6" y1="293.825" x2="378.4" y2="293.825" stroke="#2e4a8e" stroke-width="0.5"/>
<circle cx="377.5" cy="292.8" r="1.1" fill="#fff" stroke="#2e4a8e" stroke-width="0.5"/>
<line x1="403.96" y1="283.84999999999997" x2="403.96" y2="290.15" stroke="#2e4a8e" stroke-width="0.5" stroke-dasharray="0.8,0.6"/>
<line x1="403.06" y1="283.84999999999997" x2="404.85999999999996" y2="283.84999999999997" stroke="#2e4a8e" stroke-width="0.5"/>
<line x1="403.06" y1="290.15" x2="404.85999999999996" y2="290.15" stroke="#2e4a8e" stroke-width="0.5"/>
<circle cx="403.96" cy="287.0" r="1.1" fill="#fff" stroke="#2e4a8e" stroke-width="0.5"/>
<line x1="430.42" y1="278.075" x2="430.42" y2="286.47499999999997" stroke="#2e4a8e" stroke-width="0.5" stroke-dasharray="0.8,0.6"/>
<line x1="429.52000000000004" y1="278.075" x2="431.32" y2="278.075" stroke="#2e4a8e" stroke-width="0.5"/>
<line x1="429.52000000000004" y1="286.47499999999997" x2="431.32" y2="286.47499999999997" stroke="#2e4a8e" stroke-width="0.5"/>
<circle cx="430.42" cy="282.3" r="1.1" fill="#fff" stroke="#2e4a8e" stroke-width="0.5"/>
<line x1="456.88" y1="272.825" x2="456.88" y2="282.275" stroke="#2e4a8e" stroke-width="0.5" stroke-dasharray="0.8,0.6"/>
<line x1="455.98" y1="272.825" x2="457.78" y2="272.825" stroke="#2e4a8e" stroke-width="0.5"/>
<line x1="455.98" y1="282.275" x2="457.78" y2="282.275" stroke="#2e4a8e" stroke-width="0.5"/>
<circle cx="456.88" cy="277.6" r="1.1" fill="#fff" stroke="#2e4a8e" stroke-width="0.5"/>
<line x1="483.34000000000003" y1="264.425" x2="483.34000000000003" y2="275.97499999999997" stroke="#2e4a8e" stroke-width="0.5" stroke-dasharray="0.8,0.6"/>
<line x1="482.44000000000005" y1="264.425" x2="484.24" y2="264.425" stroke="#2e4a8e" stroke-width="0.5"/>
<line x1="482.44000000000005" y1="275.97499999999997" x2="484.24" y2="275.97499999999997" stroke="#2e4a8e" stroke-width="0.5"/>
<circle cx="483.34000000000003" cy="270.2" r="1.1" fill="#fff" stroke="#2e4a8e" stroke-width="0.5"/>
<line x1="509.8" y1="251.29999999999998" x2="509.8" y2="266.0" stroke="#2e4a8e" stroke-width="0.5" stroke-dasharray="0.8,0.6"/>
<line x1="508.90000000000003" y1="251.29999999999998" x2="510.7" y2="251.29999999999998" stroke="#2e4a8e" stroke-width="0.5"/>
<line x1="508.90000000000003" y1="266.0" x2="510.7" y2="266.0" stroke="#2e4a8e" stroke-width="0.5"/>
<circle cx="509.8" cy="258.6" r="1.1" fill="#fff" stroke="#2e4a8e" stroke-width="0.5"/>
<line x1="377.5" y1="290.675" x2="377.5" y2="292.775" stroke="#2e4a8e" stroke-width="0.5"/>
<line x1="376.6" y1="290.675" x2="378.4" y2="290.675" stroke="#2e4a8e" stroke-width="0.5"/>
<line x1="376.6" y1="292.775" x2="378.4" y2="292.775" stroke="#2e4a8e" stroke-width="0.5"/>
<rect x="376.6" y="290.8" width="1.8" height="1.8" fill="#2e4a8e"/>
<line x1="403.96" y1="281.22499999999997" x2="403.96" y2="287.525" stroke="#2e4a8e" stroke-width="0.5"/>
<line x1="403.06" y1="281.22499999999997" x2="404.85999999999996" y2="281.22499999999997" stroke="#2e4a8e" stroke-width="0.5"/>
<line x1="403.06" y1="287.525" x2="404.85999999999996" y2="287.525" stroke="#2e4a8e" stroke-width="0.5"/>
<rect x="403.06" y="283.5" width="1.8" height="1.8" fill="#2e4a8e"/>
<line x1="430.42" y1="272.825" x2="430.42" y2="280.175" stroke="#2e4a8e" stroke-width="0.5"/>
<line x1="429.52000000000004" y1="272.825" x2="431.32" y2="272.825" stroke="#2e4a8e" stroke-width="0.5"/>
<line x1="429.52000000000004" y1="280.175" x2="431.32" y2="280.175" stroke="#2e4a8e" stroke-width="0.5"/>
<rect x="429.52000000000004" y="275.6" width="1.8" height="1.8" fill="#2e4a8e"/>
<line x1="456.88" y1="263.375" x2="456.88" y2="272.825" stroke="#2e4a8e" stroke-width="0.5"/>
<line x1="455.98" y1="263.375" x2="457.78" y2="263.375" stroke="#2e4a8e" stroke-width="0.5"/>
<line x1="455.98" y1="272.825" x2="457.78" y2="272.825" stroke="#2e4a8e" stroke-width="0.5"/>
<rect x="455.98" y="267.2" width="1.8" height="1.8" fill="#2e4a8e"/>
<line x1="483.34000000000003" y1="252.35" x2="483.34000000000003" y2="262.84999999999997" stroke="#2e4a8e" stroke-width="0.5"/>
<line x1="482.44000000000005" y1="252.35" x2="484.24" y2="252.35" stroke="#2e4a8e" stroke-width="0.5"/>
<line x1="482.44000000000005" y1="262.84999999999997" x2="484.24" y2="262.84999999999997" stroke="#2e4a8e" stroke-width="0.5"/>
<rect x="482.44000000000005" y="256.7" width="1.8" height="1.8" fill="#2e4a8e"/>
<line x1="509.8" y1="234.5" x2="509.8" y2="249.2" stroke="#2e4a8e" stroke-width="0.5"/>
<line x1="508.90000000000003" y1="234.5" x2="510.7" y2="234.5" stroke="#2e4a8e" stroke-width="0.5"/>
<line x1="508.90000000000003" y1="249.2" x2="510.7" y2="249.2" stroke="#2e4a8e" stroke-width="0.5"/>
<rect x="508.90000000000003" y="240.9" width="1.8" height="1.8" fill="#2e4a8e"/>
<line x1="377.5" y1="291.2" x2="377.5" y2="293.3" stroke="#c6283e" stroke-width="0.5" stroke-dasharray="0.8,0.6"/>
<line x1="376.6" y1="291.2" x2="378.4" y2="291.2" stroke="#c6283e" stroke-width="0.5"/>
<line x1="376.6" y1="293.3" x2="378.4" y2="293.3" stroke="#c6283e" stroke-width="0.5"/>
<path d="M377.5,291.1 L378.6,293.1 L376.4,293.1 Z" fill="#c6283e"/>
<line x1="403.96" y1="279.125" x2="403.96" y2="287.525" stroke="#c6283e" stroke-width="0.5" stroke-dasharray="0.8,0.6"/>
<line x1="403.06" y1="279.125" x2="404.85999999999996" y2="279.125" stroke="#c6283e" stroke-width="0.5"/>
<line x1="403.06" y1="287.525" x2="404.85999999999996" y2="287.525" stroke="#c6283e" stroke-width="0.5"/>
<path d="M403.96,282.1 L405.06,284.1 L402.85999999999996,284.1 Z" fill="#c6283e"/>
<line x1="430.42" y1="270.72499999999997" x2="430.42" y2="280.175" stroke="#c6283e" stroke-width="0.5" stroke-dasharray="0.8,0.6"/>
<line x1="429.52000000000004" y1="270.72499999999997" x2="431.32" y2="270.72499999999997" stroke="#c6283e" stroke-width="0.5"/>
<line x1="429.52000000000004" y1="280.175" x2="431.32" y2="280.175" stroke="#c6283e" stroke-width="0.5"/>
<path d="M430.42,274.2 L431.52000000000004,276.2 L429.32,276.2 Z" fill="#c6283e"/>
<line x1="456.88" y1="261.8" x2="456.88" y2="272.3" stroke="#c6283e" stroke-width="0.5" stroke-dasharray="0.8,0.6"/>
<line x1="455.98" y1="261.8" x2="457.78" y2="261.8" stroke="#c6283e" stroke-width="0.5"/>
<line x1="455.98" y1="272.3" x2="457.78" y2="272.3" stroke="#c6283e" stroke-width="0.5"/>
<path d="M456.88,265.9 L457.98,267.9 L455.78,267.9 Z" fill="#c6283e"/>
<line x1="483.34000000000003" y1="252.35" x2="483.34000000000003" y2="264.95" stroke="#c6283e" stroke-width="0.5" stroke-dasharray="0.8,0.6"/>
<line x1="482.44000000000005" y1="252.35" x2="484.24" y2="252.35" stroke="#c6283e" stroke-width="0.5"/>
<line x1="482.44000000000005" y1="264.95" x2="484.24" y2="264.95" stroke="#c6283e" stroke-width="0.5"/>
<path d="M483.34000000000003,257.4 L484.44000000000005,259.4 L482.24,259.4 Z" fill="#c6283e"/>
<line x1="509.8" y1="240.79999999999998" x2="509.8" y2="255.5" stroke="#c6283e" stroke-width="0.5" stroke-dasharray="0.8,0.6"/>
<line x1="508.90000000000003" y1="240.79999999999998" x2="510.7" y2="240.79999999999998" stroke="#c6283e" stroke-width="0.5"/>
<line x1="508.90000000000003" y1="255.5" x2="510.7" y2="255.5" stroke="#c6283e" stroke-width="0.5"/>
<path d="M509.8,246.9 L510.90000000000003,248.9 L508.7,248.9 Z" fill="#c6283e"/>
<line x1="377.5" y1="290.15" x2="377.5" y2="292.25" stroke="#c6283e" stroke-width="0.5"/>
<line x1="376.6" y1="290.15" x2="378.4" y2="290.15" stroke="#c6283e" stroke-width="0.5"/>
<line x1="376.6" y1="292.25" x2="378.4" y2="292.25" stroke="#c6283e" stroke-width="0.5"/>
<circle cx="377.5" cy="291.2" r="1.0" fill="#c6283e"/>
<line x1="403.96" y1="269.15" x2="403.96" y2="280.7" stroke="#c6283e" stroke-width="0.5"/>
<line x1="403.06" y1="269.15" x2="404.85999999999996" y2="269.15" stroke="#c6283e" stroke-width="0.5"/>
<line x1="403.06" y1="280.7" x2="404.85999999999996" y2="280.7" stroke="#c6283e" stroke-width="0.5"/>
<circle cx="403.96" cy="274.9" r="1.0" fill="#c6283e"/>
<line x1="430.42" y1="255.5" x2="430.42" y2="268.1" stroke="#c6283e" stroke-width="0.5"/>
<line x1="429.52000000000004" y1="255.5" x2="431.32" y2="255.5" stroke="#c6283e" stroke-width="0.5"/>
<line x1="429.52000000000004" y1="268.1" x2="431.32" y2="268.1" stroke="#c6283e" stroke-width="0.5"/>
<circle cx="430.42" cy="261.8" r="1.0" fill="#c6283e"/>
<line x1="456.88" y1="251.29999999999998" x2="456.88" y2="259.7" stroke="#c6283e" stroke-width="0.5"/>
<line x1="455.98" y1="251.29999999999998" x2="457.78" y2="251.29999999999998" stroke="#c6283e" stroke-width="0.5"/>
<line x1="455.98" y1="259.7" x2="457.78" y2="259.7" stroke="#c6283e" stroke-width="0.5"/>
<circle cx="456.88" cy="255.5" r="1.0" fill="#c6283e"/>
<line x1="483.34000000000003" y1="235.02499999999998" x2="483.34000000000003" y2="244.475" stroke="#c6283e" stroke-width="0.5"/>
<line x1="482.44000000000005" y1="235.02499999999998" x2="484.24" y2="235.02499999999998" stroke="#c6283e" stroke-width="0.5"/>
<line x1="482.44000000000005" y1="244.475" x2="484.24" y2="244.475" stroke="#c6283e" stroke-width="0.5"/>
<circle cx="483.34000000000003" cy="239.8" r="1.0" fill="#c6283e"/>
<line x1="509.8" y1="224.0" x2="509.8" y2="232.39999999999998" stroke="#c6283e" stroke-width="0.5"/>
<line x1="508.90000000000003" y1="224.0" x2="510.7" y2="224.0" stroke="#c6283e" stroke-width="0.5"/>
<line x1="508.90000000000003" y1="232.39999999999998" x2="510.7" y2="232.39999999999998" stroke="#c6283e" stroke-width="0.5"/>
<circle cx="509.8" cy="228.2" r="1.0" fill="#c6283e"/>
<line x1="382" y1="221.5" x2="390" y2="221.5" stroke="#c6283e" stroke-width="1.0"/>
<path d="M384.7,221.5 L386,220.5 L387.3,221.5 L386,222.5 Z" fill="#c6283e"/>
<text x="392.5" y="223.5" font-size="5.5" fill="#222" textLength="41.7" lengthAdjust="spacingAndGlyphs" stroke="#222" stroke-width="0.06">DS-IKZF1-shRNA</text>
<line x1="382" y1="228.75" x2="390" y2="228.75" stroke="#c6283e" stroke-width="1.0" stroke-dasharray="1.6,0.9"/>
<path d="M386,227.45 L387.2,229.55 L384.8,229.55 Z" fill="#fff" stroke="#c6283e" stroke-width="0.55"/>
<text x="392.5" y="230.75" font-size="5.5" fill="#222" textLength="34.2" lengthAdjust="spacingAndGlyphs" stroke="#222" stroke-width="0.06">DS-NT-shRNA</text>
<line x1="382" y1="236.0" x2="390" y2="236.0" stroke="#2e4a8e" stroke-width="1.0"/>
<rect x="384.9" y="235.0" width="2.2" height="2.0" fill="#2e4a8e"/>
<text x="392.5" y="238.0" font-size="5.5" fill="#222" textLength="49" lengthAdjust="spacingAndGlyphs" stroke="#222" stroke-width="0.06">NoDS-IKZF1-shRNA</text>
<line x1="382" y1="243.25" x2="390" y2="243.25" stroke="#2e4a8e" stroke-width="1.0"/>
<circle cx="386" cy="243.25" r="1.1" fill="#fff" stroke="#2e4a8e" stroke-width="0.55"/>
<text x="392.5" y="245.25" font-size="5.5" fill="#222" textLength="41.7" lengthAdjust="spacingAndGlyphs" stroke="#222" stroke-width="0.06">NoDS-NT-shRNA</text>
</svg>
</body></html>
